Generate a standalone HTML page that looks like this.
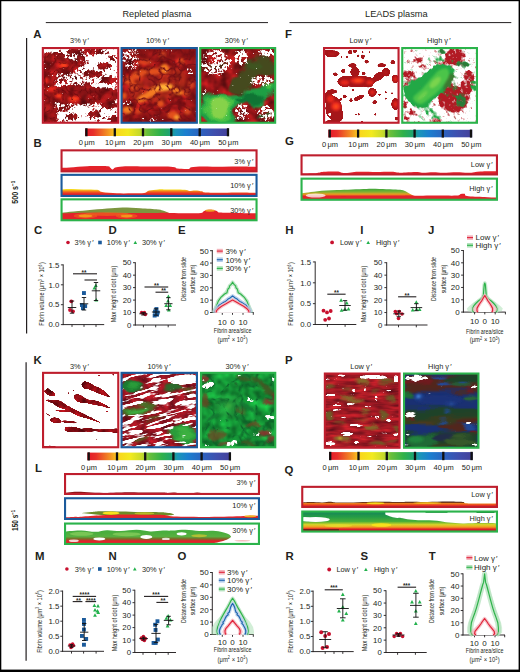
<!DOCTYPE html>
<html lang="en"><head><meta charset="utf-8"><title>Figure</title>
<style>html,body{margin:0;padding:0;background:#fff}svg{display:block}text{font-family:"Liberation Sans",sans-serif;fill:#231f20}</style></head>
<body>
<svg width="520" height="672" viewBox="0 0 520 672">
<defs>
<linearGradient id="cb" x1="0" x2="1" y1="0" y2="0">
<stop offset="0" stop-color="#e3182a"/><stop offset="0.06" stop-color="#e8302a"/><stop offset="0.16" stop-color="#f39322"/>
<stop offset="0.22" stop-color="#f9d71c"/><stop offset="0.30" stop-color="#f2ea1f"/><stop offset="0.38" stop-color="#c6d92b"/>
<stop offset="0.43" stop-color="#6abf3a"/><stop offset="0.52" stop-color="#2fb14a"/><stop offset="0.58" stop-color="#1fa56b"/>
<stop offset="0.63" stop-color="#1a96b8"/><stop offset="0.70" stop-color="#1b7fcf"/><stop offset="0.80" stop-color="#2b63c0"/>
<stop offset="0.90" stop-color="#3f4fae"/><stop offset="1" stop-color="#45409a"/></linearGradient>
<filter id="b05" x="-20%" y="-20%" width="140%" height="140%"><feGaussianBlur stdDeviation="0.5"/></filter>
<filter id="b1" x="-20%" y="-20%" width="140%" height="140%"><feGaussianBlur stdDeviation="1"/></filter>
<filter id="b2" x="-20%" y="-20%" width="140%" height="140%"><feGaussianBlur stdDeviation="2"/></filter>
<filter id="b3" x="-20%" y="-20%" width="140%" height="140%"><feGaussianBlur stdDeviation="3"/></filter>
<filter id="of1" filterUnits="userSpaceOnUse" x="41.8" y="47.0" width="77.5" height="76.8" color-interpolation-filters="sRGB"><feColorMatrix in="SourceGraphic" type="matrix" values="0 0 0 0 1 0 0 0 0 1 0 0 0 0 1 1 0 0 0 0" result="a"/><feGaussianBlur in="a" stdDeviation="0.8" result="d"/><feTurbulence type="fractalNoise" baseFrequency="0.4" numOctaves="3" seed="4" result="n"/><feColorMatrix in="n" type="matrix" values="0 0 0 0 1 0 0 0 0 1 0 0 0 0 1 1 0 0 0 0" result="na"/><feComposite in="d" in2="na" operator="arithmetic" k1="0" k2="1" k3="1.2" k4="-0.600" result="s"/><feComponentTransfer in="s"><feFuncA type="linear" slope="6" intercept="-2.500"/></feComponentTransfer></filter>
<mask id="om1" maskUnits="userSpaceOnUse" x="41.8" y="47.0" width="77.5" height="76.8"><g filter="url(#of1)"><rect x="41.8" y="47.0" width="77.5" height="76.8" fill="#000"/><rect x="43.2" y="48.2" width="75.7" height="75.7" fill="#ffffff" opacity="0.38"/><ellipse cx="47.9" cy="89.2" rx="7.9" ry="36.3" fill="#ffffff" opacity="0.7"/><ellipse cx="54.2" cy="56.4" rx="11.0" ry="4.4" fill="#ffffff" opacity="0.8"/><ellipse cx="65.2" cy="66.3" rx="13.4" ry="7.6" fill="#ffffff" opacity="0.85"/><ellipse cx="73.9" cy="51.6" rx="7.1" ry="2.8" fill="#ffffff" opacity="0.75"/><ellipse cx="92.8" cy="51.3" rx="11.0" ry="2.7" fill="#ffffff" opacity="0.75"/><ellipse cx="81.3" cy="60.0" rx="4.4" ry="6.0" fill="#ffffff" opacity="0.7"/><ellipse cx="104.3" cy="65.5" rx="7.1" ry="3.5" fill="#ffffff" opacity="0.8"/><ellipse cx="111.8" cy="58.4" rx="2.7" ry="2.5" fill="#ffffff" opacity="0.8"/><ellipse cx="92.8" cy="73.7" rx="9.5" ry="3.5" fill="#ffffff" opacity="0.8"/><ellipse cx="108.6" cy="80.5" rx="8.7" ry="3.2" fill="#ffffff" opacity="0.8"/><ellipse cx="80.2" cy="94.7" rx="39.4" ry="9.1" fill="#ffffff" opacity="0.85"/><ellipse cx="109.4" cy="104.9" rx="7.9" ry="3.8" fill="#ffffff" opacity="0.8"/><ellipse cx="49.5" cy="114.4" rx="9.5" ry="8.7" fill="#ffffff" opacity="0.8"/><ellipse cx="72.3" cy="116.8" rx="5.4" ry="2.7" fill="#ffffff" opacity="0.8"/><ellipse cx="95.2" cy="113.9" rx="7.1" ry="3.2" fill="#ffffff" opacity="0.8"/><ellipse cx="113.8" cy="119.4" rx="4.7" ry="3.5" fill="#ffffff" opacity="0.8"/><ellipse cx="63.7" cy="108.1" rx="6.3" ry="3.2" fill="#ffffff" opacity="0.5"/><ellipse cx="87.3" cy="86.8" rx="6.3" ry="3.9" fill="#ffffff" opacity="0.5"/><ellipse cx="58.9" cy="78.9" rx="9.5" ry="3.9" fill="#ffffff" opacity="0.3"/><ellipse cx="51.0" cy="50.4" rx="7.9" ry="1.9" fill="#000000" opacity="0.7"/><ellipse cx="63.7" cy="49.7" rx="4.7" ry="1.3" fill="#000000" opacity="0.5"/><ellipse cx="98.4" cy="59.2" rx="11.8" ry="4.1" fill="#000000" opacity="0.7"/><ellipse cx="92.0" cy="67.1" rx="7.1" ry="2.8" fill="#000000" opacity="0.7"/><ellipse cx="114.1" cy="65.5" rx="2.8" ry="3.9" fill="#000000" opacity="0.7"/><ellipse cx="114.1" cy="52.1" rx="3.2" ry="2.2" fill="#000000" opacity="0.7"/><ellipse cx="102.3" cy="85.7" rx="12.6" ry="1.7" fill="#000000" opacity="0.7"/><ellipse cx="81.0" cy="111.2" rx="7.9" ry="4.4" fill="#000000" opacity="0.7"/><ellipse cx="60.5" cy="116.0" rx="3.9" ry="4.7" fill="#000000" opacity="0.6"/><ellipse cx="106.2" cy="112.8" rx="6.3" ry="3.2" fill="#000000" opacity="0.7"/><ellipse cx="84.2" cy="120.4" rx="9.5" ry="1.9" fill="#000000" opacity="0.7"/><ellipse cx="103.1" cy="121.0" rx="4.7" ry="1.6" fill="#000000" opacity="0.6"/><ellipse cx="111.8" cy="73.4" rx="4.7" ry="1.9" fill="#000000" opacity="0.7"/></g></mask>
<filter id="tA1" filterUnits="userSpaceOnUse" x="41.8" y="47" width="77.5" height="76.8" color-interpolation-filters="sRGB"><feTurbulence type="fractalNoise" baseFrequency="0.1" numOctaves="2" seed="7"/><feColorMatrix type="matrix" values="0.8 0 0 0 0.17  0.12 0 0 0 0.02  0.12 0 0 0 0.03  0 0 0 0 1"/></filter>
<filter id="vA1" filterUnits="userSpaceOnUse" x="41.8" y="47" width="77.5" height="76.8" color-interpolation-filters="sRGB"><feTurbulence type="turbulence" baseFrequency="0.11" numOctaves="2" seed="19"/><feColorMatrix type="matrix" values="0 0 0 0 0.42 0 0 0 0 0.04 0 0 0 0 0.06 -5 0 0 0 0.85"/><feGaussianBlur stdDeviation="0.5"/></filter>
<clipPath id="c1"><rect x="42.50" y="47.70" width="76.10" height="75.40"/></clipPath>
<filter id="of2" filterUnits="userSpaceOnUse" x="120.5" y="47.0" width="77.4" height="76.8" color-interpolation-filters="sRGB"><feColorMatrix in="SourceGraphic" type="matrix" values="0 0 0 0 1 0 0 0 0 1 0 0 0 0 1 1 0 0 0 0" result="a"/><feGaussianBlur in="a" stdDeviation="1.0" result="d"/><feTurbulence type="fractalNoise" baseFrequency="0.4" numOctaves="3" seed="9" result="n"/><feColorMatrix in="n" type="matrix" values="0 0 0 0 1 0 0 0 0 1 0 0 0 0 1 1 0 0 0 0" result="na"/><feComposite in="d" in2="na" operator="arithmetic" k1="0" k2="1" k3="1.2" k4="-0.600" result="s"/><feComponentTransfer in="s"><feFuncA type="linear" slope="6" intercept="-2.500"/></feComponentTransfer></filter>
<mask id="om2" maskUnits="userSpaceOnUse" x="120.5" y="47.0" width="77.4" height="76.8"><g filter="url(#of2)"><rect x="120.5" y="47.0" width="77.4" height="76.8" fill="#000"/><rect x="118.0" y="45.0" width="82.0" height="82.0" fill="#ffffff" opacity="0.97"/><ellipse cx="130.6" cy="59.2" rx="9.8" ry="11.0" fill="#000000" opacity="0.4"/><ellipse cx="127.5" cy="54.5" rx="4.7" ry="4.7" fill="#000000" opacity="0.2"/><ellipse cx="189.8" cy="71.8" rx="4.4" ry="4.7" fill="#000000" opacity="0.42"/><ellipse cx="127.5" cy="104.1" rx="5.5" ry="3.5" fill="#000000" opacity="0.38"/><ellipse cx="152.7" cy="119.1" rx="14.2" ry="2.8" fill="#000000" opacity="0.33"/><ellipse cx="170.0" cy="51.0" rx="4.7" ry="1.6" fill="#000000" opacity="0.3"/><ellipse cx="140.1" cy="49.7" rx="9.5" ry="1.3" fill="#000000" opacity="0.3"/></g></mask>
<filter id="tA2" filterUnits="userSpaceOnUse" x="120.5" y="47" width="77.4" height="76.8" color-interpolation-filters="sRGB"><feTurbulence type="fractalNoise" baseFrequency="0.12" numOctaves="2" seed="3"/><feColorMatrix type="matrix" values="0.8 0 0 0 0.2  0.16 0 0 0 0.0  0.12 0 0 0 0.03  0 0 0 0 1"/></filter>
<filter id="vA2" filterUnits="userSpaceOnUse" x="120.5" y="47" width="77.4" height="76.8" color-interpolation-filters="sRGB"><feTurbulence type="turbulence" baseFrequency="0.1" numOctaves="2" seed="14"/><feColorMatrix type="matrix" values="0 0 0 0 0.45 0 0 0 0 0.06 0 0 0 0 0.08 -4.5 0 0 0 1.0"/><feGaussianBlur stdDeviation="0.5"/></filter>
<clipPath id="c2"><rect x="121.20" y="47.70" width="76.00" height="75.40"/></clipPath>
<filter id="of3" filterUnits="userSpaceOnUse" x="199.2" y="47.0" width="77.0" height="76.8" color-interpolation-filters="sRGB"><feColorMatrix in="SourceGraphic" type="matrix" values="0 0 0 0 1 0 0 0 0 1 0 0 0 0 1 1 0 0 0 0" result="a"/><feGaussianBlur in="a" stdDeviation="0.9" result="d"/><feTurbulence type="fractalNoise" baseFrequency="0.4" numOctaves="3" seed="12" result="n"/><feColorMatrix in="n" type="matrix" values="0 0 0 0 1 0 0 0 0 1 0 0 0 0 1 1 0 0 0 0" result="na"/><feComposite in="d" in2="na" operator="arithmetic" k1="0" k2="1" k3="1.2" k4="-0.600" result="s"/><feComponentTransfer in="s"><feFuncA type="linear" slope="6" intercept="-2.500"/></feComponentTransfer></filter>
<mask id="om3" maskUnits="userSpaceOnUse" x="199.2" y="47.0" width="77.0" height="76.8"><g filter="url(#of3)"><rect x="199.2" y="47.0" width="77.0" height="76.8" fill="#000"/><rect x="197.0" y="45.0" width="82.0" height="82.0" fill="#ffffff" opacity="0.93"/><ellipse cx="215.9" cy="62.3" rx="15.8" ry="13.4" fill="#000000" opacity="0.52"/><ellipse cx="241.2" cy="57.6" rx="7.1" ry="7.9" fill="#000000" opacity="0.62"/><ellipse cx="266.4" cy="52.9" rx="9.5" ry="3.5" fill="#000000" opacity="0.68"/><ellipse cx="261.7" cy="80.5" rx="12.6" ry="5.2" fill="#000000" opacity="0.56"/><ellipse cx="266.4" cy="112.8" rx="8.7" ry="7.9" fill="#000000" opacity="0.55"/><ellipse cx="241.9" cy="112.0" rx="6.6" ry="8.7" fill="#000000" opacity="0.5"/><ellipse cx="204.9" cy="92.3" rx="3.5" ry="6.3" fill="#000000" opacity="0.35"/><ellipse cx="208.0" cy="60.0" rx="5.5" ry="3.5" fill="#ffffff" opacity="0.6"/><ellipse cx="242.7" cy="60.0" rx="2.2" ry="2.8" fill="#ffffff" opacity="0.6"/><ellipse cx="220.7" cy="78.9" rx="9.5" ry="4.7" fill="#ffffff" opacity="0.5"/><ellipse cx="259.3" cy="72.6" rx="4.7" ry="3.2" fill="#ffffff" opacity="0.4"/><ellipse cx="228.5" cy="54.5" rx="3.2" ry="4.7" fill="#ffffff" opacity="0.5"/><ellipse cx="264.8" cy="114.4" rx="3.2" ry="2.4" fill="#ffffff" opacity="0.4"/><ellipse cx="260.1" cy="81.3" rx="3.2" ry="1.9" fill="#ffffff" opacity="0.4"/></g></mask>
<filter id="tA3" filterUnits="userSpaceOnUse" x="199.2" y="47" width="77.0" height="76.8" color-interpolation-filters="sRGB"><feTurbulence type="fractalNoise" baseFrequency="0.11" numOctaves="2" seed="5"/><feColorMatrix type="matrix" values="0.8 0 0 0 0.17  0.12 0 0 0 0.02  0.12 0 0 0 0.03  0 0 0 0 1"/></filter>
<filter id="wA3" filterUnits="userSpaceOnUse" x="187.2" y="35" width="101.0" height="100.8" color-interpolation-filters="sRGB"><feTurbulence type="fractalNoise" baseFrequency="0.07" numOctaves="2" seed="44" result="n"/><feGaussianBlur in="SourceGraphic" stdDeviation="0.9" result="b"/><feDisplacementMap in="b" in2="n" scale="12" xChannelSelector="R" yChannelSelector="G"/></filter>
<clipPath id="c3"><rect x="199.90" y="47.70" width="75.60" height="75.40"/></clipPath>
<filter id="of4" filterUnits="userSpaceOnUse" x="323.0" y="47.0" width="76.6" height="76.8" color-interpolation-filters="sRGB"><feColorMatrix in="SourceGraphic" type="matrix" values="0 0 0 0 1 0 0 0 0 1 0 0 0 0 1 1 0 0 0 0" result="a"/><feGaussianBlur in="a" stdDeviation="0.55" result="d"/><feTurbulence type="fractalNoise" baseFrequency="0.3" numOctaves="2" seed="21" result="n"/><feColorMatrix in="n" type="matrix" values="0 0 0 0 1 0 0 0 0 1 0 0 0 0 1 1 0 0 0 0" result="na"/><feComposite in="d" in2="na" operator="arithmetic" k1="0" k2="1" k3="0.6" k4="-0.300" result="s"/><feComponentTransfer in="s"><feFuncA type="linear" slope="5" intercept="-2.000"/></feComponentTransfer></filter>
<mask id="om4" maskUnits="userSpaceOnUse" x="323.0" y="47.0" width="76.6" height="76.8"><g filter="url(#of4)"><rect x="323.0" y="47.0" width="76.6" height="76.8" fill="#000"/><ellipse cx="332.0" cy="53.7" rx="7.6" ry="3.5" fill="#ffffff"/><ellipse cx="327.3" cy="52.1" rx="3.5" ry="2.5" fill="#ffffff"/><ellipse cx="350.2" cy="52.1" rx="2.2" ry="2.2" fill="#ffffff"/><ellipse cx="354.9" cy="51.3" rx="1.9" ry="1.9" fill="#ffffff"/><ellipse cx="362.8" cy="56.8" rx="1.9" ry="2.2" fill="#ffffff"/><ellipse cx="366.7" cy="61.6" rx="2.1" ry="1.9" fill="#ffffff"/><ellipse cx="358.1" cy="56.0" rx="1.4" ry="1.4" fill="#ffffff"/><ellipse cx="352.5" cy="65.5" rx="4.1" ry="2.2" fill="#ffffff"/><ellipse cx="381.7" cy="65.2" rx="4.1" ry="1.9" fill="#ffffff"/><ellipse cx="392.8" cy="62.3" rx="2.2" ry="2.2" fill="#ffffff"/><ellipse cx="343.1" cy="71.0" rx="2.4" ry="1.9" fill="#ffffff"/><ellipse cx="335.2" cy="74.2" rx="2.2" ry="1.7" fill="#ffffff"/><ellipse cx="356.5" cy="81.3" rx="19.2" ry="5.7" fill="#ffffff"/><ellipse cx="354.9" cy="71.8" rx="4.7" ry="4.7" fill="#ffffff"/><ellipse cx="378.6" cy="76.5" rx="6.6" ry="3.8" fill="#ffffff" transform="rotate(-35 378.6 76.5)"/><ellipse cx="386.0" cy="72.1" rx="4.1" ry="4.4" fill="#ffffff"/><ellipse cx="344.7" cy="81.6" rx="6.3" ry="5.7" fill="#ffffff"/><ellipse cx="368.3" cy="82.2" rx="5.7" ry="5.4" fill="#ffffff"/><ellipse cx="395.4" cy="78.9" rx="3.5" ry="4.1" fill="#ffffff"/><ellipse cx="372.3" cy="92.3" rx="4.4" ry="4.4" fill="#ffffff"/><ellipse cx="374.6" cy="102.1" rx="2.4" ry="1.9" fill="#ffffff"/><ellipse cx="358.8" cy="97.8" rx="5.4" ry="2.1" fill="#ffffff" transform="rotate(-25 358.8 97.8)"/><ellipse cx="344.7" cy="96.3" rx="1.9" ry="1.9" fill="#ffffff"/><ellipse cx="351.0" cy="100.2" rx="1.6" ry="1.9" fill="#ffffff"/><ellipse cx="333.6" cy="108.1" rx="8.2" ry="11.8" fill="#ffffff"/><ellipse cx="336.8" cy="115.2" rx="6.6" ry="7.9" fill="#ffffff"/><ellipse cx="332.0" cy="91.5" rx="5.4" ry="2.2" fill="#ffffff"/><ellipse cx="328.6" cy="97.8" rx="4.7" ry="6.3" fill="#ffffff"/><ellipse cx="395.4" cy="104.1" rx="4.1" ry="6.0" fill="#ffffff"/><ellipse cx="358.8" cy="114.4" rx="1.1" ry="1.1" fill="#ffffff"/><ellipse cx="355.7" cy="114.4" rx="0.9" ry="0.9" fill="#ffffff"/><ellipse cx="375.4" cy="114.4" rx="1.1" ry="1.1" fill="#ffffff"/><ellipse cx="385.7" cy="92.3" rx="1.1" ry="1.1" fill="#ffffff"/><ellipse cx="385.7" cy="98.6" rx="1.1" ry="1.1" fill="#ffffff"/><ellipse cx="392.0" cy="93.1" rx="0.9" ry="0.9" fill="#ffffff"/><ellipse cx="396.7" cy="118.8" rx="2.1" ry="1.7" fill="#ffffff"/><ellipse cx="330.5" cy="121.8" rx="5.0" ry="1.7" fill="#ffffff"/><ellipse cx="329.7" cy="114.4" rx="1.4" ry="1.7" fill="#000000" opacity="0.9"/><ellipse cx="347.0" cy="56.8" rx="1.1" ry="1.1" fill="#ffffff"/><ellipse cx="341.5" cy="56.8" rx="0.9" ry="0.9" fill="#ffffff"/><ellipse cx="362.8" cy="52.1" rx="0.9" ry="0.9" fill="#ffffff"/><ellipse cx="369.9" cy="52.1" rx="0.9" ry="0.8" fill="#ffffff"/><ellipse cx="363.6" cy="73.4" rx="1.9" ry="1.9" fill="#ffffff"/><ellipse cx="353.3" cy="89.9" rx="1.3" ry="0.9" fill="#ffffff"/><ellipse cx="340.7" cy="99.4" rx="1.3" ry="1.3" fill="#ffffff"/><ellipse cx="379.4" cy="94.7" rx="1.3" ry="1.1" fill="#ffffff"/><ellipse cx="362.0" cy="121.5" rx="1.3" ry="0.8" fill="#ffffff"/></g></mask>
<clipPath id="c4"><rect x="323.70" y="47.70" width="75.20" height="75.40"/></clipPath>
<filter id="of5" filterUnits="userSpaceOnUse" x="401.2" y="47.0" width="76.8" height="76.8" color-interpolation-filters="sRGB"><feColorMatrix in="SourceGraphic" type="matrix" values="0 0 0 0 1 0 0 0 0 1 0 0 0 0 1 1 0 0 0 0" result="a"/><feGaussianBlur in="a" stdDeviation="1.2" result="d"/><feTurbulence type="fractalNoise" baseFrequency="0.28" numOctaves="3" seed="31" result="n"/><feColorMatrix in="n" type="matrix" values="0 0 0 0 1 0 0 0 0 1 0 0 0 0 1 1 0 0 0 0" result="na"/><feComposite in="d" in2="na" operator="arithmetic" k1="0" k2="1" k3="0.9" k4="-0.450" result="s"/><feComponentTransfer in="s"><feFuncA type="linear" slope="3.2" intercept="-1.100"/></feComponentTransfer></filter>
<mask id="om5" maskUnits="userSpaceOnUse" x="401.2" y="47.0" width="76.8" height="76.8"><g filter="url(#of5)"><rect x="401.2" y="47.0" width="76.8" height="76.8" fill="#000"/><rect x="399.0" y="45.0" width="82.0" height="82.0" fill="#ffffff" opacity="0.27"/><ellipse cx="455.0" cy="56.8" rx="10.3" ry="8.7" fill="#ffffff" opacity="0.6"/><ellipse cx="467.6" cy="82.1" rx="7.1" ry="11.8" fill="#ffffff" opacity="0.55"/><ellipse cx="453.4" cy="99.4" rx="15.0" ry="13.4" fill="#ffffff" opacity="0.65"/><ellipse cx="417.9" cy="60.0" rx="4.7" ry="2.2" fill="#ffffff" opacity="0.7"/><ellipse cx="422.7" cy="66.3" rx="4.7" ry="1.6" fill="#ffffff" opacity="0.6"/><ellipse cx="408.5" cy="74.2" rx="6.3" ry="3.8" fill="#ffffff" opacity="0.55"/><ellipse cx="411.6" cy="112.8" rx="3.2" ry="2.8" fill="#ffffff" opacity="0.7"/><ellipse cx="406.9" cy="118.3" rx="2.4" ry="2.2" fill="#ffffff" opacity="0.6"/><ellipse cx="436.8" cy="120.7" rx="5.4" ry="1.7" fill="#ffffff" opacity="0.6"/><ellipse cx="405.3" cy="104.9" rx="2.5" ry="3.2" fill="#ffffff" opacity="0.6"/><ellipse cx="413.2" cy="84.4" rx="10.3" ry="7.1" fill="#ffffff" opacity="0.3"/><ellipse cx="446.3" cy="92.3" rx="9.5" ry="9.5" fill="#ffffff" opacity="0.35"/><ellipse cx="443.2" cy="63.9" rx="9.5" ry="4.7" fill="#ffffff" opacity="0.3"/><ellipse cx="459.7" cy="76.5" rx="4.7" ry="6.3" fill="#000000" opacity="0.55"/><ellipse cx="439.2" cy="110.4" rx="7.9" ry="3.5" fill="#000000" opacity="0.35"/><ellipse cx="424.2" cy="52.9" rx="11.0" ry="2.8" fill="#000000" opacity="0.3"/><ellipse cx="472.3" cy="115.2" rx="5.5" ry="7.1" fill="#000000" opacity="0.3"/><ellipse cx="470.8" cy="53.7" rx="4.4" ry="3.9" fill="#000000" opacity="0.3"/></g></mask>
<filter id="of6" filterUnits="userSpaceOnUse" x="391.2" y="37.0" width="96.8" height="96.8" color-interpolation-filters="sRGB"><feColorMatrix in="SourceGraphic" type="matrix" values="0 0 0 0 1 0 0 0 0 1 0 0 0 0 1 1 0 0 0 0" result="a"/><feGaussianBlur in="a" stdDeviation="1.0" result="d"/><feTurbulence type="fractalNoise" baseFrequency="0.3 0.22" numOctaves="3" seed="37" result="n"/><feColorMatrix in="n" type="matrix" values="0 0 0 0 1 0 0 0 0 1 0 0 0 0 1 1 0 0 0 0" result="na"/><feComposite in="d" in2="na" operator="arithmetic" k1="0" k2="1" k3="0.9" k4="-0.450" result="s"/><feComponentTransfer in="s"><feFuncA type="linear" slope="3.5" intercept="-1.250"/></feComponentTransfer></filter>
<mask id="om6" maskUnits="userSpaceOnUse" x="391.2" y="37.0" width="96.8" height="96.8"><g transform="rotate(-40 439.6 85.4)" filter="url(#of6)"><g transform="rotate(40 439.6 85.4)"><rect x="391.2" y="37.0" width="96.8" height="96.8" fill="#000"/><rect x="399.0" y="45.0" width="82.0" height="82.0" fill="#ffffff" opacity="0.2"/><path d="M404.5 89.2C406.2 87.1 411.5 83.5 414.8 81.0C418.1 78.5 421.2 76.5 424.2 74.2C427.3 71.9 430.3 68.7 432.9 67.1C435.5 65.4 437.2 64.5 440.0 64.2C442.8 64.0 447.2 64.4 449.5 65.5C451.8 66.6 453.4 68.6 453.9 71.0C454.4 73.4 453.6 77.2 452.3 80.0C451.0 82.8 448.4 85.5 446.3 87.9C444.3 90.3 441.9 92.5 440.0 94.2C438.1 95.9 436.8 96.7 435.0 98.3C433.1 99.9 431.0 102.1 429.0 103.7C426.9 105.2 425.0 107.3 422.7 107.8C420.3 108.2 417.4 107.6 414.8 106.2C412.1 104.8 408.6 101.6 406.9 99.4C405.2 97.2 405.1 94.8 404.7 93.1C404.3 91.4 402.8 91.2 404.5 89.2Z" fill="#ffffff" opacity="0.85"/><ellipse cx="441.6" cy="51.6" rx="3.8" ry="3.5" fill="#ffffff" opacity="0.6"/><ellipse cx="462.1" cy="64.7" rx="7.3" ry="3.5" fill="#ffffff" opacity="0.55"/><ellipse cx="461.3" cy="100.2" rx="5.7" ry="7.3" fill="#ffffff" opacity="0.6"/><ellipse cx="473.1" cy="86.0" rx="3.8" ry="5.7" fill="#ffffff" opacity="0.55"/><ellipse cx="431.3" cy="112.8" rx="11.8" ry="4.1" fill="#ffffff" transform="rotate(35 431.3 112.8)" opacity="0.45"/><ellipse cx="410.0" cy="86.0" rx="9.5" ry="6.3" fill="#ffffff" transform="rotate(-30 410.0 86.0)" opacity="0.3"/><ellipse cx="451.0" cy="86.0" rx="7.9" ry="12.6" fill="#ffffff" opacity="0.25"/><ellipse cx="436.8" cy="59.2" rx="9.5" ry="3.9" fill="#ffffff" opacity="0.3"/><ellipse cx="417.9" cy="114.4" rx="7.9" ry="2.2" fill="#ffffff" transform="rotate(30 417.9 114.4)" opacity="0.3"/></g></g></mask>
<clipPath id="c5"><rect x="401.90" y="47.70" width="75.40" height="75.40"/></clipPath>
<filter id="of7" filterUnits="userSpaceOnUse" x="42.0" y="371.8" width="77.3" height="76.5" color-interpolation-filters="sRGB"><feColorMatrix in="SourceGraphic" type="matrix" values="0 0 0 0 1 0 0 0 0 1 0 0 0 0 1 1 0 0 0 0" result="a"/><feGaussianBlur in="a" stdDeviation="0.6" result="d"/><feTurbulence type="fractalNoise" baseFrequency="0.15 0.4" numOctaves="2" seed="41" result="n"/><feColorMatrix in="n" type="matrix" values="0 0 0 0 1 0 0 0 0 1 0 0 0 0 1 1 0 0 0 0" result="na"/><feComposite in="d" in2="na" operator="arithmetic" k1="0" k2="1" k3="0.7" k4="-0.350" result="s"/><feComponentTransfer in="s"><feFuncA type="linear" slope="6" intercept="-2.500"/></feComponentTransfer></filter>
<mask id="om7" maskUnits="userSpaceOnUse" x="42.0" y="371.8" width="77.3" height="76.5"><g filter="url(#of7)"><rect x="42.0" y="371.8" width="77.3" height="76.5" fill="#000"/><path d="M81.3 384.2C81.6 383.0 83.6 381.1 85.7 381.4C87.9 381.6 91.5 384.0 94.4 385.5C97.3 386.9 100.5 388.2 103.1 390.2C105.7 392.1 110.7 396.5 110.2 397.1C109.7 397.8 103.2 395.1 99.9 394.0C96.6 392.8 93.1 391.1 90.5 390.2C87.8 389.3 85.7 389.6 84.2 388.6C82.6 387.6 81.1 385.4 81.3 384.2Z" fill="#ffffff"/><path d="M73.9 396.8C73.9 395.5 75.6 393.6 77.8 394.0C80.1 394.3 83.9 397.7 87.3 398.9C90.7 400.1 94.4 399.7 98.4 401.2C102.3 402.8 110.7 407.4 111.0 408.2C111.2 409.0 103.9 406.7 99.9 406.0C96.0 405.2 91.0 404.2 87.3 403.6C83.6 402.9 80.1 403.1 77.8 402.0C75.6 400.9 73.9 398.2 73.9 396.8Z" fill="#ffffff"/><ellipse cx="49.8" cy="392.9" rx="5.7" ry="2.7" fill="#ffffff" transform="rotate(22 49.8 392.9)"/><ellipse cx="55.0" cy="402.0" rx="9.5" ry="1.7" fill="#ffffff" transform="rotate(12 55.0 402.0)" opacity="0.9"/><path d="M52.9 403.1C52.9 401.9 56.3 400.0 58.9 400.4C61.5 400.9 65.0 404.1 68.4 406.0C71.8 407.8 75.7 409.6 79.4 411.5C83.1 413.3 86.8 415.0 90.5 417.0C94.1 419.0 102.0 423.0 101.5 423.3C101.0 423.6 91.3 419.8 87.3 418.6C83.4 417.4 81.0 417.4 77.8 416.0C74.7 414.7 71.5 412.1 68.4 410.7C65.2 409.3 61.5 408.8 58.9 407.5C56.3 406.3 52.9 404.3 52.9 403.1Z" fill="#ffffff"/><ellipse cx="63.7" cy="411.0" rx="8.7" ry="1.1" fill="#ffffff" transform="rotate(5 63.7 411.0)" opacity="0.9"/><ellipse cx="55.8" cy="420.5" rx="5.7" ry="2.8" fill="#ffffff" transform="rotate(10 55.8 420.5)"/><ellipse cx="69.2" cy="422.0" rx="7.6" ry="1.3" fill="#ffffff" transform="rotate(5 69.2 422.0)" opacity="0.9"/><path d="M64.9 427.6C65.9 426.8 68.9 426.3 71.5 426.5C74.2 426.6 77.6 428.0 81.0 428.4C84.4 428.7 88.4 428.1 92.0 428.4C95.7 428.6 98.7 429.6 103.1 429.6C107.4 429.7 115.6 428.2 118.1 428.7C120.6 429.2 120.6 432.0 118.1 432.6C115.6 433.2 107.4 432.3 103.1 432.1C98.7 432.0 95.7 431.6 92.0 431.5C88.4 431.5 84.4 431.7 81.0 431.8C77.6 431.9 74.1 432.3 71.5 432.1C69.0 432.0 66.8 431.8 65.7 431.0C64.6 430.3 63.9 428.3 64.9 427.6Z" fill="#ffffff"/><ellipse cx="49.5" cy="446.8" rx="6.6" ry="1.3" fill="#ffffff" opacity="0.9"/><ellipse cx="99.1" cy="375.5" rx="1.3" ry="0.9" fill="#ffffff"/><ellipse cx="113.3" cy="374.7" rx="0.9" ry="0.9" fill="#ffffff"/><ellipse cx="68.4" cy="393.3" rx="0.9" ry="0.8" fill="#ffffff"/><ellipse cx="73.4" cy="390.2" rx="0.6" ry="0.6" fill="#ffffff"/><ellipse cx="107.0" cy="411.3" rx="1.1" ry="0.8" fill="#ffffff"/><ellipse cx="96.8" cy="439.4" rx="0.6" ry="0.5" fill="#ffffff" opacity="0.9"/><ellipse cx="48.7" cy="414.9" rx="4.7" ry="0.6" fill="#ffffff" transform="rotate(30 48.7 414.9)" opacity="0.6"/><ellipse cx="47.9" cy="389.7" rx="1.9" ry="1.6" fill="#ffffff" opacity="0.8"/></g></mask>
<filter id="tK1" filterUnits="userSpaceOnUse" x="42" y="371.8" width="77.3" height="76.5" color-interpolation-filters="sRGB"><feTurbulence type="fractalNoise" baseFrequency="0.15" numOctaves="2" seed="2"/><feColorMatrix type="matrix" values="0.7 0 0 0 0.2  0.1 0 0 0 0  0.12 0 0 0 0.02  0 0 0 0 1"/></filter>
<clipPath id="c6"><rect x="42.70" y="372.50" width="75.90" height="75.10"/></clipPath>
<filter id="of8" filterUnits="userSpaceOnUse" x="106.5" y="357.8" width="105.5" height="104.5" color-interpolation-filters="sRGB"><feColorMatrix in="SourceGraphic" type="matrix" values="0 0 0 0 1 0 0 0 0 1 0 0 0 0 1 1 0 0 0 0" result="a"/><feGaussianBlur in="a" stdDeviation="0.6" result="d"/><feTurbulence type="fractalNoise" baseFrequency="0.07 0.4" numOctaves="3" seed="51" result="n"/><feColorMatrix in="n" type="matrix" values="0 0 0 0 1 0 0 0 0 1 0 0 0 0 1 1 0 0 0 0" result="na"/><feComposite in="d" in2="na" operator="arithmetic" k1="0" k2="1" k3="1.5" k4="-0.750" result="s"/><feComponentTransfer in="s"><feFuncA type="linear" slope="6" intercept="-2.500"/></feComponentTransfer></filter>
<mask id="om8" maskUnits="userSpaceOnUse" x="106.5" y="357.8" width="105.5" height="104.5"><g transform="rotate(-13 159.2 410.1)" filter="url(#of8)"><g transform="rotate(13 159.2 410.1)"><rect x="106.5" y="357.8" width="105.5" height="104.5" fill="#000"/><rect x="102.2" y="354.2" width="113.5" height="113.5" fill="#ffffff" opacity="0.62"/><ellipse cx="182.7" cy="379.5" rx="15.0" ry="4.7" fill="#000000" transform="rotate(-5 182.7 379.5)" opacity="0.75"/><ellipse cx="170.0" cy="394.4" rx="8.7" ry="1.6" fill="#000000" transform="rotate(-12 170.0 394.4)" opacity="0.7"/><ellipse cx="133.8" cy="403.9" rx="9.8" ry="1.4" fill="#000000" transform="rotate(-12 133.8 403.9)" opacity="0.7"/><ellipse cx="162.9" cy="401.5" rx="12.3" ry="1.7" fill="#000000" transform="rotate(-12 162.9 401.5)" opacity="0.7"/><ellipse cx="154.3" cy="412.9" rx="8.7" ry="1.1" fill="#000000" transform="rotate(-12 154.3 412.9)" opacity="0.65"/><ellipse cx="183.4" cy="403.1" rx="9.1" ry="2.5" fill="#000000" transform="rotate(-12 183.4 403.1)" opacity="0.7"/><ellipse cx="127.5" cy="422.4" rx="6.0" ry="1.7" fill="#000000" transform="rotate(-10 127.5 422.4)" opacity="0.7"/><ellipse cx="161.4" cy="425.2" rx="12.3" ry="1.7" fill="#000000" transform="rotate(-15 161.4 425.2)" opacity="0.7"/><ellipse cx="132.2" cy="433.1" rx="10.3" ry="2.1" fill="#000000" transform="rotate(-10 132.2 433.1)" opacity="0.7"/><ellipse cx="133.8" cy="440.2" rx="7.9" ry="1.1" fill="#000000" transform="rotate(-10 133.8 440.2)" opacity="0.6"/><ellipse cx="156.6" cy="433.1" rx="6.9" ry="1.4" fill="#000000" transform="rotate(-12 156.6 433.1)" opacity="0.65"/><ellipse cx="189.0" cy="418.9" rx="6.9" ry="1.7" fill="#000000" transform="rotate(-12 189.0 418.9)" opacity="0.65"/><ellipse cx="149.5" cy="389.2" rx="6.9" ry="1.4" fill="#000000" transform="rotate(-12 149.5 389.2)" opacity="0.65"/><ellipse cx="192.1" cy="396.0" rx="4.7" ry="1.3" fill="#000000" transform="rotate(-10 192.1 396.0)" opacity="0.6"/><ellipse cx="155.8" cy="379.5" rx="5.0" ry="1.3" fill="#000000" transform="rotate(-12 155.8 379.5)" opacity="0.6"/><ellipse cx="141.7" cy="396.0" rx="4.7" ry="0.9" fill="#000000" transform="rotate(-10 141.7 396.0)" opacity="0.5"/><ellipse cx="171.6" cy="415.7" rx="6.3" ry="0.9" fill="#000000" transform="rotate(-12 171.6 415.7)" opacity="0.5"/><ellipse cx="143.2" cy="446.0" rx="7.9" ry="1.1" fill="#000000" opacity="0.5"/><ellipse cx="127.5" cy="379.5" rx="3.5" ry="1.3" fill="#000000" opacity="0.4"/><ellipse cx="192.1" cy="410.2" rx="4.7" ry="0.9" fill="#000000" transform="rotate(-10 192.1 410.2)" opacity="0.5"/><ellipse cx="125.9" cy="411.8" rx="3.2" ry="0.9" fill="#000000" opacity="0.5"/><ellipse cx="177.9" cy="422.0" rx="4.7" ry="0.9" fill="#000000" transform="rotate(-10 177.9 422.0)" opacity="0.5"/><ellipse cx="170.0" cy="439.4" rx="4.7" ry="1.3" fill="#000000" opacity="0.4"/><ellipse cx="132.2" cy="385.0" rx="9.1" ry="6.3" fill="#ffffff" opacity="0.85"/><ellipse cx="138.5" cy="409.4" rx="17.3" ry="4.4" fill="#ffffff" transform="rotate(-10 138.5 409.4)" opacity="0.9"/><ellipse cx="184.2" cy="433.9" rx="13.9" ry="7.9" fill="#ffffff" opacity="0.8"/><ellipse cx="172.4" cy="387.3" rx="8.7" ry="3.5" fill="#ffffff" opacity="0.8"/><ellipse cx="141.7" cy="439.4" rx="9.5" ry="1.9" fill="#ffffff" transform="rotate(-20 141.7 439.4)" opacity="0.6"/></g></g></mask>
<filter id="tK2" filterUnits="userSpaceOnUse" x="120.5" y="371.8" width="77.5" height="76.5" color-interpolation-filters="sRGB"><feTurbulence type="fractalNoise" baseFrequency="0.13" numOctaves="2" seed="8"/><feColorMatrix type="matrix" values="0.7 0 0 0 0.24  0.1 0 0 0 0.03  0.12 0 0 0 0.07  0 0 0 0 1"/></filter>
<filter id="wK2" filterUnits="userSpaceOnUse" x="108.5" y="359.8" width="101.5" height="100.5" color-interpolation-filters="sRGB"><feTurbulence type="fractalNoise" baseFrequency="0.04 0.12" numOctaves="2" seed="45" result="n"/><feGaussianBlur in="SourceGraphic" stdDeviation="0.9" result="b"/><feDisplacementMap in="b" in2="n" scale="12" xChannelSelector="R" yChannelSelector="G"/></filter>
<clipPath id="c7"><rect x="121.20" y="372.50" width="76.10" height="75.10"/></clipPath>
<filter id="of9" filterUnits="userSpaceOnUse" x="200.0" y="371.8" width="76.3" height="76.5" color-interpolation-filters="sRGB"><feColorMatrix in="SourceGraphic" type="matrix" values="0 0 0 0 1 0 0 0 0 1 0 0 0 0 1 1 0 0 0 0" result="a"/><feGaussianBlur in="a" stdDeviation="0.8" result="d"/><feTurbulence type="fractalNoise" baseFrequency="0.4" numOctaves="3" seed="61" result="n"/><feColorMatrix in="n" type="matrix" values="0 0 0 0 1 0 0 0 0 1 0 0 0 0 1 1 0 0 0 0" result="na"/><feComposite in="d" in2="na" operator="arithmetic" k1="0" k2="1" k3="1.0" k4="-0.500" result="s"/><feComponentTransfer in="s"><feFuncA type="linear" slope="6" intercept="-2.500"/></feComponentTransfer></filter>
<mask id="om9" maskUnits="userSpaceOnUse" x="200.0" y="371.8" width="76.3" height="76.5"><g filter="url(#of9)"><rect x="200.0" y="371.8" width="76.3" height="76.5" fill="#000"/><rect x="197.0" y="370.0" width="82.0" height="82.0" fill="#ffffff" opacity="0.96"/><ellipse cx="208.0" cy="385.0" rx="6.6" ry="3.2" fill="#000000" transform="rotate(-15 208.0 385.0)" opacity="0.8"/><ellipse cx="239.6" cy="375.5" rx="2.8" ry="1.3" fill="#000000" opacity="0.7"/><ellipse cx="250.6" cy="400.0" rx="4.7" ry="1.4" fill="#000000" transform="rotate(20 250.6 400.0)" opacity="0.8"/><ellipse cx="269.9" cy="417.3" rx="4.7" ry="2.2" fill="#000000" opacity="0.8"/><ellipse cx="256.9" cy="434.7" rx="3.9" ry="1.4" fill="#000000" opacity="0.75"/><ellipse cx="231.7" cy="443.3" rx="7.3" ry="2.1" fill="#000000" transform="rotate(-20 231.7 443.3)" opacity="0.8"/><ellipse cx="273.5" cy="379.5" rx="1.9" ry="2.8" fill="#000000" opacity="0.7"/><ellipse cx="268.0" cy="375.5" rx="2.4" ry="1.3" fill="#000000" opacity="0.6"/><ellipse cx="206.5" cy="446.0" rx="3.9" ry="1.3" fill="#000000" opacity="0.6"/><ellipse cx="203.3" cy="379.5" rx="1.9" ry="1.6" fill="#000000" opacity="0.6"/><ellipse cx="271.1" cy="433.1" rx="3.2" ry="1.3" fill="#000000" opacity="0.6"/><ellipse cx="252.2" cy="393.7" rx="3.2" ry="0.9" fill="#000000" transform="rotate(20 252.2 393.7)" opacity="0.5"/></g></mask>
<filter id="tK3" filterUnits="userSpaceOnUse" x="200" y="371.8" width="76.3" height="76.5" color-interpolation-filters="sRGB"><feTurbulence type="fractalNoise" baseFrequency="0.1" numOctaves="2" seed="6"/><feColorMatrix type="matrix" values="0.1 0 0 0 0.03  0.65 0 0 0 0.25  0.22 0 0 0 0.1  0 0 0 0 1"/></filter>
<filter id="wK3" filterUnits="userSpaceOnUse" x="188" y="359.8" width="100.3" height="100.5" color-interpolation-filters="sRGB"><feTurbulence type="fractalNoise" baseFrequency="0.06" numOctaves="2" seed="46" result="n"/><feGaussianBlur in="SourceGraphic" stdDeviation="0.9" result="b"/><feDisplacementMap in="b" in2="n" scale="12" xChannelSelector="R" yChannelSelector="G"/></filter>
<filter id="vK3" filterUnits="userSpaceOnUse" x="200" y="371.8" width="76.3" height="76.5" color-interpolation-filters="sRGB"><feTurbulence type="turbulence" baseFrequency="0.07" numOctaves="2" seed="23"/><feColorMatrix type="matrix" values="0 0 0 0 0.05 0 0 0 0 0.36 0 0 0 0 0.16 -4 0 0 0 0.8"/><feGaussianBlur stdDeviation="0.5"/></filter>
<clipPath id="c8"><rect x="200.70" y="372.50" width="74.90" height="75.10"/></clipPath>
<filter id="of10" filterUnits="userSpaceOnUse" x="323.8" y="372.5" width="76.8" height="76.3" color-interpolation-filters="sRGB"><feColorMatrix in="SourceGraphic" type="matrix" values="0 0 0 0 1 0 0 0 0 1 0 0 0 0 1 1 0 0 0 0" result="a"/><feGaussianBlur in="a" stdDeviation="0.7" result="d"/><feTurbulence type="fractalNoise" baseFrequency="0.2 0.5" numOctaves="3" seed="71" result="n"/><feColorMatrix in="n" type="matrix" values="0 0 0 0 1 0 0 0 0 1 0 0 0 0 1 1 0 0 0 0" result="na"/><feComposite in="d" in2="na" operator="arithmetic" k1="0" k2="1" k3="1.1" k4="-0.550" result="s"/><feComponentTransfer in="s"><feFuncA type="linear" slope="6" intercept="-2.500"/></feComponentTransfer></filter>
<mask id="om10" maskUnits="userSpaceOnUse" x="323.8" y="372.5" width="76.8" height="76.3"><g filter="url(#of10)"><rect x="323.8" y="372.5" width="76.8" height="76.3" fill="#000"/><rect x="321.0" y="370.0" width="82.0" height="82.0" fill="#ffffff" opacity="0.9"/><ellipse cx="373.0" cy="377.1" rx="13.9" ry="2.1" fill="#000000" opacity="0.75"/><ellipse cx="341.5" cy="375.5" rx="3.5" ry="1.4" fill="#000000" opacity="0.6"/><ellipse cx="395.9" cy="378.7" rx="2.5" ry="3.5" fill="#000000" opacity="0.7"/><ellipse cx="330.5" cy="395.2" rx="5.4" ry="1.4" fill="#000000" opacity="0.7"/><ellipse cx="351.0" cy="403.9" rx="3.8" ry="1.7" fill="#000000" opacity="0.7"/><ellipse cx="336.8" cy="405.5" rx="4.4" ry="1.1" fill="#000000" opacity="0.65"/><ellipse cx="354.1" cy="390.5" rx="1.9" ry="1.7" fill="#000000" opacity="0.65"/><ellipse cx="365.2" cy="389.7" rx="1.7" ry="1.4" fill="#000000" opacity="0.65"/><ellipse cx="376.2" cy="398.4" rx="1.7" ry="2.1" fill="#000000" opacity="0.65"/><ellipse cx="356.5" cy="425.2" rx="6.9" ry="1.4" fill="#000000" opacity="0.7"/><ellipse cx="347.0" cy="433.9" rx="6.0" ry="2.1" fill="#000000" opacity="0.75"/><ellipse cx="377.0" cy="417.3" rx="2.7" ry="1.4" fill="#000000" opacity="0.65"/><ellipse cx="388.8" cy="420.5" rx="2.7" ry="1.4" fill="#000000" opacity="0.65"/><ellipse cx="330.5" cy="443.3" rx="5.0" ry="2.1" fill="#000000" opacity="0.7"/><ellipse cx="356.5" cy="442.5" rx="2.7" ry="1.4" fill="#000000" opacity="0.65"/><ellipse cx="395.9" cy="434.7" rx="2.7" ry="1.4" fill="#000000" opacity="0.65"/><ellipse cx="336.8" cy="410.2" rx="4.3" ry="1.1" fill="#000000" opacity="0.6"/><ellipse cx="387.2" cy="390.5" rx="3.5" ry="1.1" fill="#000000" opacity="0.5"/><ellipse cx="368.3" cy="406.3" rx="3.5" ry="1.1" fill="#000000" opacity="0.5"/><ellipse cx="344.7" cy="417.3" rx="3.5" ry="1.1" fill="#000000" opacity="0.5"/><ellipse cx="330.5" cy="379.5" rx="4.7" ry="1.3" fill="#000000" opacity="0.4"/><ellipse cx="384.1" cy="433.1" rx="3.9" ry="1.1" fill="#000000" opacity="0.4"/><ellipse cx="368.3" cy="436.2" rx="3.2" ry="0.9" fill="#000000" opacity="0.4"/></g></mask>
<filter id="tP1" filterUnits="userSpaceOnUse" x="323.8" y="372.5" width="78" height="78" color-interpolation-filters="sRGB"><feTurbulence type="fractalNoise" baseFrequency="0.07 0.28" numOctaves="2" seed="5"/><feColorMatrix type="matrix" values="0.7 0 0 0 0.28  0.12 0 0 0 0.04  0.12 0 0 0 0.08  0 0 0 0 1"/></filter>
<filter id="wP1" filterUnits="userSpaceOnUse" x="311.8" y="360.5" width="100.8" height="100.3" color-interpolation-filters="sRGB"><feTurbulence type="fractalNoise" baseFrequency="0.04 0.12" numOctaves="2" seed="47" result="n"/><feGaussianBlur in="SourceGraphic" stdDeviation="0.9" result="b"/><feDisplacementMap in="b" in2="n" scale="10" xChannelSelector="R" yChannelSelector="G"/></filter>
<clipPath id="c9"><rect x="324.50" y="373.20" width="75.40" height="74.90"/></clipPath>
<filter id="of11" filterUnits="userSpaceOnUse" x="403.0" y="372.5" width="76.5" height="76.3" color-interpolation-filters="sRGB"><feColorMatrix in="SourceGraphic" type="matrix" values="0 0 0 0 1 0 0 0 0 1 0 0 0 0 1 1 0 0 0 0" result="a"/><feGaussianBlur in="a" stdDeviation="0.8" result="d"/><feTurbulence type="fractalNoise" baseFrequency="0.15 0.45" numOctaves="3" seed="81" result="n"/><feColorMatrix in="n" type="matrix" values="0 0 0 0 1 0 0 0 0 1 0 0 0 0 1 1 0 0 0 0" result="na"/><feComposite in="d" in2="na" operator="arithmetic" k1="0" k2="1" k3="1.1" k4="-0.550" result="s"/><feComponentTransfer in="s"><feFuncA type="linear" slope="6" intercept="-2.500"/></feComponentTransfer></filter>
<mask id="om11" maskUnits="userSpaceOnUse" x="403.0" y="372.5" width="76.5" height="76.3"><g filter="url(#of11)"><rect x="403.0" y="372.5" width="76.5" height="76.3" fill="#000"/><rect x="400.0" y="370.0" width="82.0" height="82.0" fill="#ffffff" opacity="0.96"/><ellipse cx="415.8" cy="377.9" rx="12.3" ry="3.2" fill="#000000" opacity="0.72"/><ellipse cx="474.1" cy="386.6" rx="3.2" ry="1.9" fill="#000000" opacity="0.75"/><ellipse cx="472.5" cy="375.5" rx="3.9" ry="1.3" fill="#000000" opacity="0.6"/><ellipse cx="410.3" cy="414.9" rx="6.3" ry="3.2" fill="#000000" opacity="0.74"/><ellipse cx="469.4" cy="422.8" rx="4.1" ry="1.4" fill="#000000" opacity="0.7"/><ellipse cx="407.1" cy="434.7" rx="2.2" ry="1.9" fill="#000000" opacity="0.6"/><ellipse cx="407.9" cy="444.9" rx="3.9" ry="1.6" fill="#000000" opacity="0.6"/><ellipse cx="474.1" cy="444.4" rx="3.5" ry="1.6" fill="#000000" opacity="0.6"/><ellipse cx="459.9" cy="374.7" rx="3.2" ry="0.9" fill="#000000" opacity="0.5"/></g></mask>
<filter id="tP2" filterUnits="userSpaceOnUse" x="403" y="372.5" width="78" height="78" color-interpolation-filters="sRGB"><feTurbulence type="fractalNoise" baseFrequency="0.05 0.2" numOctaves="2" seed="9"/><feColorMatrix type="matrix" values="0.15 0 0 0 0.02  0.3 0 0 0 0.06  0.7 0 0 0 0.1  0 0 0 0 1"/></filter>
<filter id="wP2" filterUnits="userSpaceOnUse" x="391" y="360.5" width="100.5" height="100.3" color-interpolation-filters="sRGB"><feTurbulence type="fractalNoise" baseFrequency="0.03 0.11" numOctaves="2" seed="33" result="n"/><feGaussianBlur in="SourceGraphic" stdDeviation="0.9" result="b"/><feDisplacementMap in="b" in2="n" scale="14" xChannelSelector="R" yChannelSelector="G"/></filter>
<clipPath id="c10"><rect x="403.70" y="373.20" width="75.10" height="74.90"/></clipPath>
<clipPath id="c11"><rect x="61.20" y="150.00" width="195.70" height="21.70"/></clipPath>
<linearGradient id="gB2" gradientUnits="userSpaceOnUse" x1="0" x2="0" y1="189.3" y2="195.6"><stop offset="0" stop-color="#f7e11a"/><stop offset="0.4" stop-color="#f0641e"/><stop offset="0.75" stop-color="#e3202a"/><stop offset="1" stop-color="#e3202a"/></linearGradient>
<clipPath id="c12"><rect x="61.20" y="174.50" width="195.70" height="21.80"/></clipPath>
<clipPath id="c13"><rect x="61.20" y="199.00" width="195.70" height="21.60"/></clipPath>
<clipPath id="c14"><rect x="301.20" y="155.00" width="196.10" height="19.80"/></clipPath>
<linearGradient id="gG2" gradientUnits="userSpaceOnUse" x1="0" x2="0" y1="189.0" y2="199.4"><stop offset="0" stop-color="#3fa63a"/><stop offset="0.3" stop-color="#86b030"/><stop offset="0.5" stop-color="#e8a020"/><stop offset="0.7" stop-color="#e3202a"/><stop offset="1" stop-color="#e3202a"/></linearGradient>
<clipPath id="c15"><rect x="301.20" y="178.30" width="196.10" height="21.80"/></clipPath>
<clipPath id="c16"><rect x="64.70" y="473.70" width="194.60" height="20.60"/></clipPath>
<linearGradient id="gL2" gradientUnits="userSpaceOnUse" x1="0" x2="0" y1="512.5" y2="518.5"><stop offset="0" stop-color="#f0641e"/><stop offset="0.5" stop-color="#e3202a"/><stop offset="1" stop-color="#e3202a"/></linearGradient>
<clipPath id="c17"><rect x="64.70" y="497.90" width="194.60" height="21.40"/></clipPath>
<linearGradient id="gL3" gradientUnits="userSpaceOnUse" x1="0" x2="0" y1="530.5" y2="544.0"><stop offset="0" stop-color="#44ad3c"/><stop offset="0.45" stop-color="#58b040"/><stop offset="0.62" stop-color="#7a6a28"/><stop offset="0.78" stop-color="#e3202a"/><stop offset="1" stop-color="#e3202a"/></linearGradient>
<clipPath id="c18"><rect x="64.70" y="523.20" width="194.60" height="21.10"/></clipPath>
<linearGradient id="gQ1" gradientUnits="userSpaceOnUse" x1="0" x2="0" y1="501.8" y2="507.0"><stop offset="0" stop-color="#4a2412"/><stop offset="0.16" stop-color="#7a3a16"/><stop offset="0.3" stop-color="#e8821e"/><stop offset="0.6" stop-color="#ee4a20"/><stop offset="0.82" stop-color="#e3202a"/><stop offset="1" stop-color="#e3202a"/></linearGradient>
<clipPath id="c19"><rect x="301.90" y="486.50" width="195.40" height="20.80"/></clipPath>
<linearGradient id="gQ2" gradientUnits="userSpaceOnUse" x1="0" x2="0" y1="511.4" y2="531.5"><stop offset="0" stop-color="#16835c"/><stop offset="0.25" stop-color="#229a48"/><stop offset="0.5" stop-color="#4aae38"/><stop offset="0.66" stop-color="#d8d428"/><stop offset="0.78" stop-color="#f29a1e"/><stop offset="0.88" stop-color="#e3202a"/><stop offset="1" stop-color="#a8181c"/></linearGradient>
<clipPath id="c20"><rect x="301.90" y="511.20" width="195.40" height="20.70"/></clipPath>
</defs>
<rect x="0" y="0" width="520" height="672" fill="#fff"/>
<rect x="0" y="0" width="520" height="1.2" fill="#000"/>
<rect x="0" y="0" width="1.3" height="672" fill="#000"/>
<rect x="518.6" y="0" width="1.4" height="672" fill="#000"/>
<rect x="0" y="669.6" width="520" height="2.4" fill="#000"/>
<text x="156.90" y="17.00" font-size="9.5" text-anchor="middle" textLength="68.80" lengthAdjust="spacingAndGlyphs">Repleted plasma</text>
<text x="396.30" y="17.00" font-size="9.5" text-anchor="middle" textLength="62.60" lengthAdjust="spacingAndGlyphs">LEADS plasma</text>
<path d="M45.80 22.60L268.00 22.60" stroke="#231f20" stroke-width="1.0" stroke-linecap="butt" fill="none"/>
<path d="M289.50 22.60L511.30 22.60" stroke="#231f20" stroke-width="1.0" stroke-linecap="butt" fill="none"/>
<path d="M26.60 38.00L26.60 333.50" stroke="#231f20" stroke-width="1.2" stroke-linecap="butt" fill="none"/>
<path d="M26.10 362.30L26.10 660.80" stroke="#231f20" stroke-width="1.2" stroke-linecap="butt" fill="none"/>
<text x="18.30" y="192.30" font-size="9.6" text-anchor="middle" font-weight="bold" textLength="23.00" lengthAdjust="spacingAndGlyphs" transform="rotate(-90 18.30 192.30)">500 s<tspan dy="-3.6" font-size="6">−1</tspan></text>
<text x="18.30" y="520.50" font-size="9.6" text-anchor="middle" font-weight="bold" textLength="21.00" lengthAdjust="spacingAndGlyphs" transform="rotate(-90 18.30 520.50)">150 s<tspan dy="-3.6" font-size="6">−1</tspan></text>
<text x="33.30" y="38.00" font-size="11.4" font-weight="bold" fill="#000">A</text>
<text x="285.00" y="37.50" font-size="11.4" font-weight="bold" fill="#000">F</text>
<text x="33.40" y="146.80" font-size="11.4" font-weight="bold" fill="#000">B</text>
<text x="285.00" y="144.80" font-size="11.4" font-weight="bold" fill="#000">G</text>
<text x="34.00" y="234.00" font-size="11.4" font-weight="bold" fill="#000">C</text>
<text x="108.60" y="234.00" font-size="11.4" font-weight="bold" fill="#000">D</text>
<text x="178.00" y="234.00" font-size="11.4" font-weight="bold" fill="#000">E</text>
<text x="285.20" y="233.80" font-size="11.4" font-weight="bold" fill="#000">H</text>
<text x="360.20" y="233.80" font-size="11.4" font-weight="bold" fill="#000">I</text>
<text x="428.00" y="233.80" font-size="11.4" font-weight="bold" fill="#000">J</text>
<text x="33.60" y="364.00" font-size="11.4" font-weight="bold" fill="#000">K</text>
<text x="285.00" y="363.80" font-size="11.4" font-weight="bold" fill="#000">P</text>
<text x="35.00" y="471.80" font-size="11.4" font-weight="bold" fill="#000">L</text>
<text x="284.60" y="473.60" font-size="11.4" font-weight="bold" fill="#000">Q</text>
<text x="35.00" y="560.20" font-size="11.4" font-weight="bold" fill="#000">M</text>
<text x="108.60" y="560.20" font-size="11.4" font-weight="bold" fill="#000">N</text>
<text x="177.40" y="560.20" font-size="11.4" font-weight="bold" fill="#000">O</text>
<text x="285.50" y="560.40" font-size="11.4" font-weight="bold" fill="#000">R</text>
<text x="360.40" y="560.40" font-size="11.4" font-weight="bold" fill="#000">S</text>
<text x="428.80" y="560.40" font-size="11.4" font-weight="bold" fill="#000">T</text>
<rect x="85" y="128.5" width="143.60" height="7.50" fill="url(#cb)"/>
<rect x="85.25" y="128.20" width="2.3" height="8.10" fill="#111"/>
<text x="86.70" y="145.10" font-size="7.5" text-anchor="middle">0<tspan dx="1.3">μm</tspan></text>
<rect x="113.65" y="128.20" width="2.3" height="8.10" fill="#111"/>
<text x="115.10" y="145.10" font-size="7.5" text-anchor="middle">10<tspan dx="1.3">μm</tspan></text>
<rect x="141.85" y="128.20" width="2.3" height="8.10" fill="#111"/>
<text x="143.30" y="145.10" font-size="7.5" text-anchor="middle">20<tspan dx="1.3">μm</tspan></text>
<rect x="170.15" y="128.20" width="2.3" height="8.10" fill="#111"/>
<text x="171.60" y="145.10" font-size="7.5" text-anchor="middle">30<tspan dx="1.3">μm</tspan></text>
<rect x="198.55" y="128.20" width="2.3" height="8.10" fill="#111"/>
<text x="200.00" y="145.10" font-size="7.5" text-anchor="middle">40<tspan dx="1.3">μm</tspan></text>
<rect x="226.85" y="128.20" width="2.3" height="8.10" fill="#111"/>
<text x="228.30" y="145.10" font-size="7.5" text-anchor="middle">50<tspan dx="1.3">μm</tspan></text>
<rect x="328.3" y="129.8" width="143.90" height="7.50" fill="url(#cb)"/>
<rect x="328.55" y="129.50" width="2.3" height="8.10" fill="#111"/>
<text x="330.00" y="146.60" font-size="7.5" text-anchor="middle">0<tspan dx="1.3">μm</tspan></text>
<rect x="356.95" y="129.50" width="2.3" height="8.10" fill="#111"/>
<text x="358.40" y="146.60" font-size="7.5" text-anchor="middle">10<tspan dx="1.3">μm</tspan></text>
<rect x="385.25" y="129.50" width="2.3" height="8.10" fill="#111"/>
<text x="386.70" y="146.60" font-size="7.5" text-anchor="middle">20<tspan dx="1.3">μm</tspan></text>
<rect x="413.45" y="129.50" width="2.3" height="8.10" fill="#111"/>
<text x="414.90" y="146.60" font-size="7.5" text-anchor="middle">30<tspan dx="1.3">μm</tspan></text>
<rect x="441.65" y="129.50" width="2.3" height="8.10" fill="#111"/>
<text x="443.10" y="146.60" font-size="7.5" text-anchor="middle">40<tspan dx="1.3">μm</tspan></text>
<rect x="469.85" y="129.50" width="2.3" height="8.10" fill="#111"/>
<text x="471.30" y="146.60" font-size="7.5" text-anchor="middle">50<tspan dx="1.3">μm</tspan></text>
<rect x="87.3" y="452.6" width="143.70" height="7.60" fill="url(#cb)"/>
<rect x="87.55" y="452.30" width="2.3" height="8.20" fill="#111"/>
<text x="89.00" y="469.90" font-size="7.5" text-anchor="middle">0<tspan dx="1.3">μm</tspan></text>
<rect x="115.85" y="452.30" width="2.3" height="8.20" fill="#111"/>
<text x="117.30" y="469.90" font-size="7.5" text-anchor="middle">10<tspan dx="1.3">μm</tspan></text>
<rect x="144.05" y="452.30" width="2.3" height="8.20" fill="#111"/>
<text x="145.50" y="469.90" font-size="7.5" text-anchor="middle">20<tspan dx="1.3">μm</tspan></text>
<rect x="172.25" y="452.30" width="2.3" height="8.20" fill="#111"/>
<text x="173.70" y="469.90" font-size="7.5" text-anchor="middle">30<tspan dx="1.3">μm</tspan></text>
<rect x="200.45" y="452.30" width="2.3" height="8.20" fill="#111"/>
<text x="201.90" y="469.90" font-size="7.5" text-anchor="middle">40<tspan dx="1.3">μm</tspan></text>
<rect x="228.75" y="452.30" width="2.3" height="8.20" fill="#111"/>
<text x="230.20" y="469.90" font-size="7.5" text-anchor="middle">50<tspan dx="1.3">μm</tspan></text>
<rect x="329" y="452.1" width="143.80" height="7.80" fill="url(#cb)"/>
<rect x="329.05" y="451.80" width="2.3" height="8.40" fill="#111"/>
<text x="330.50" y="469.90" font-size="7.5" text-anchor="middle">0<tspan dx="1.3">μm</tspan></text>
<rect x="357.35" y="451.80" width="2.3" height="8.40" fill="#111"/>
<text x="358.80" y="469.90" font-size="7.5" text-anchor="middle">10<tspan dx="1.3">μm</tspan></text>
<rect x="385.65" y="451.80" width="2.3" height="8.40" fill="#111"/>
<text x="387.10" y="469.90" font-size="7.5" text-anchor="middle">20<tspan dx="1.3">μm</tspan></text>
<rect x="413.85" y="451.80" width="2.3" height="8.40" fill="#111"/>
<text x="415.30" y="469.90" font-size="7.5" text-anchor="middle">30<tspan dx="1.3">μm</tspan></text>
<rect x="442.15" y="451.80" width="2.3" height="8.40" fill="#111"/>
<text x="443.60" y="469.90" font-size="7.5" text-anchor="middle">40<tspan dx="1.3">μm</tspan></text>
<rect x="470.45" y="451.80" width="2.3" height="8.40" fill="#111"/>
<text x="471.90" y="469.90" font-size="7.5" text-anchor="middle">50<tspan dx="1.3">μm</tspan></text>
<g clip-path="url(#c1)">
<rect x="41.8" y="47" width="77.50" height="76.80" fill="#ffffff"/>
<g mask="url(#om1)">
<g filter="url(#tA1)">
<rect x="41.8" y="47" width="77.5" height="76.8" fill="#8e1216"/>
</g>
<g filter="url(#b1)">
<ellipse cx="62.9" cy="65.5" rx="6.0" ry="3.2" fill="#e8281c"/>
<ellipse cx="63.7" cy="65.2" rx="2.8" ry="1.6" fill="#ff4a1e"/>
<ellipse cx="51.0" cy="89.2" rx="4.7" ry="2.8" fill="#e8281c"/>
<ellipse cx="58.9" cy="95.8" rx="4.4" ry="2.5" fill="#e8281c"/>
<ellipse cx="59.2" cy="95.8" rx="1.9" ry="1.3" fill="#ff4a1e"/>
<ellipse cx="73.9" cy="98.6" rx="6.6" ry="2.8" fill="#e8281c"/>
<ellipse cx="73.9" cy="98.9" rx="3.5" ry="1.4" fill="#ff4a1e"/>
<ellipse cx="46.3" cy="80.5" rx="2.2" ry="3.5" fill="#e8281c"/>
<ellipse cx="93.6" cy="96.3" rx="4.7" ry="2.2" fill="#b81b1e"/>
<ellipse cx="107.8" cy="97.0" rx="4.7" ry="2.2" fill="#b81b1e"/>
<ellipse cx="47.9" cy="108.1" rx="3.2" ry="3.9" fill="#b81b1e"/>
</g>
<g filter="url(#vA1)">
<rect x="41.8" y="47" width="77.5" height="76.8" fill="#7d0f14"/>
</g>
</g>
</g>
<rect x="42.85" y="48.05" width="75.40" height="74.70" fill="none" stroke="#be1e2d" stroke-width="2.1"/>
<g clip-path="url(#c2)">
<rect x="120.5" y="47" width="77.40" height="76.80" fill="#ffffff"/>
<g mask="url(#om2)">
<g filter="url(#tA2)">
<rect x="120.5" y="47" width="77.4" height="76.8" fill="#a5161a"/>
</g>
<g filter="url(#b1)">
<ellipse cx="157.4" cy="84.4" rx="30.0" ry="17.3" fill="#d8481e" transform="rotate(-15 157.4 84.4)" opacity="0.35"/>
<ellipse cx="159.0" cy="49.7" rx="44.2" ry="11.0" fill="#8a1416" opacity="0.55"/>
<ellipse cx="159.0" cy="122.3" rx="44.2" ry="11.8" fill="#8a1416" opacity="0.55"/>
<ellipse cx="193.7" cy="86.0" rx="9.5" ry="34.7" fill="#8a1416" opacity="0.5"/>
<ellipse cx="151.1" cy="80.5" rx="9.5" ry="5.5" fill="#8a1416" transform="rotate(-20 151.1 80.5)" opacity="0.5"/>
<ellipse cx="122.7" cy="63.9" rx="6.3" ry="12.6" fill="#8a1416" opacity="0.4"/>
<ellipse cx="129.0" cy="80.5" rx="5.5" ry="3.9" fill="#e2501e"/>
<ellipse cx="138.5" cy="74.2" rx="7.9" ry="3.9" fill="#e2501e" transform="rotate(-25 138.5 74.2)"/>
<ellipse cx="152.7" cy="71.5" rx="9.5" ry="3.2" fill="#e2501e"/>
<ellipse cx="164.5" cy="68.7" rx="4.4" ry="4.7" fill="#f47a22"/>
<ellipse cx="181.1" cy="61.6" rx="3.2" ry="3.2" fill="#e2501e"/>
<ellipse cx="144.8" cy="62.3" rx="7.1" ry="2.4" fill="#e2501e" opacity="0.7"/>
<ellipse cx="162.2" cy="54.5" rx="3.5" ry="2.8" fill="#e2501e" opacity="0.7"/>
<ellipse cx="127.5" cy="110.0" rx="5.0" ry="3.5" fill="#f47a22"/>
<ellipse cx="133.8" cy="86.3" rx="3.5" ry="3.5" fill="#e2501e"/>
<ellipse cx="124.3" cy="95.8" rx="2.5" ry="3.5" fill="#e2501e"/>
<ellipse cx="173.2" cy="115.2" rx="5.5" ry="3.9" fill="#e2501e"/>
<ellipse cx="176.7" cy="117.5" rx="2.5" ry="2.2" fill="#ffa030"/>
<ellipse cx="185.8" cy="92.3" rx="3.5" ry="3.2" fill="#e2501e"/>
<ellipse cx="160.6" cy="103.7" rx="3.5" ry="3.2" fill="#e2501e"/>
<ellipse cx="143.2" cy="97.8" rx="7.1" ry="3.5" fill="#f47a22" transform="rotate(-30 143.2 97.8)"/>
<ellipse cx="151.9" cy="92.3" rx="7.9" ry="3.8" fill="#f47a22" transform="rotate(-35 151.9 92.3)"/>
<ellipse cx="163.7" cy="87.3" rx="9.5" ry="3.8" fill="#ffa030" transform="rotate(-5 163.7 87.3)"/>
<ellipse cx="176.4" cy="91.0" rx="7.1" ry="2.8" fill="#f47a22" transform="rotate(25 176.4 91.0)"/>
<ellipse cx="165.3" cy="87.3" rx="4.7" ry="1.9" fill="#ffb638"/>
<ellipse cx="187.4" cy="111.2" rx="3.2" ry="3.2" fill="#e2501e" opacity="0.8"/>
<ellipse cx="138.5" cy="111.2" rx="3.2" ry="2.4" fill="#e2501e" opacity="0.7"/>
<ellipse cx="191.3" cy="84.4" rx="2.8" ry="3.9" fill="#e2501e" opacity="0.7"/>
</g>
<g filter="url(#vA2)">
<rect x="120.5" y="47" width="77.4" height="76.8" fill="#7d0f14"/>
</g>
</g>
</g>
<rect x="121.55" y="48.05" width="75.30" height="74.70" fill="none" stroke="#1b5a9b" stroke-width="2.1"/>
<g clip-path="url(#c3)">
<rect x="199.2" y="47" width="77.00" height="76.80" fill="#ffffff"/>
<g mask="url(#om3)">
<g filter="url(#tA3)">
<rect x="199.2" y="47" width="77.0" height="76.8" fill="#8e1216"/>
</g>
<g filter="url(#wA3)">
<path d="M249.0 59.2C252.5 56.8 259.0 55.8 263.2 56.0C267.4 56.3 272.4 57.6 274.3 60.8C276.1 63.9 276.6 72.3 274.3 75.0C271.9 77.6 264.0 74.7 260.1 76.5C256.1 78.4 253.2 83.4 250.6 86.0C248.0 88.6 247.5 91.5 244.3 92.3C241.2 93.1 233.5 93.1 231.7 90.7C229.9 88.4 231.4 81.5 233.3 78.1C235.1 74.7 240.1 73.4 242.7 70.2C245.4 67.1 245.6 61.6 249.0 59.2Z" fill="#454a1e"/>
<ellipse cx="217.5" cy="64.7" rx="14.2" ry="1.3" fill="#454a1e" transform="rotate(-17 217.5 64.7)"/>
<ellipse cx="253.8" cy="65.5" rx="7.9" ry="4.7" fill="#3f5420"/>
<path d="M203.3 97.0C205.4 91.9 210.9 92.6 215.9 92.3C220.9 92.0 228.0 95.5 233.3 95.5C238.5 95.5 242.5 93.6 247.5 92.3C252.5 91.0 258.6 89.4 263.2 87.6C267.8 85.7 273.1 80.5 275.1 81.3C277.0 82.1 277.0 89.4 275.1 92.3C273.1 95.2 265.7 96.3 263.2 98.6C260.7 101.0 263.2 105.5 260.1 106.5C256.9 107.6 248.5 103.9 244.3 104.9C240.1 106.0 236.7 109.8 234.8 112.8C233.0 115.8 238.5 121.4 233.3 123.1C228.0 124.8 208.3 127.4 203.3 123.1C198.3 118.7 201.2 102.2 203.3 97.0Z" fill="#1e9f45"/>
<ellipse cx="249.0" cy="99.4" rx="12.6" ry="5.5" fill="#0f7434"/>
<ellipse cx="264.8" cy="116.0" rx="9.5" ry="1.3" fill="#0f7434" transform="rotate(-27 264.8 116.0)"/>
</g>
<g filter="url(#wA3)">
<path d="M204.9 101.8C205.7 98.4 208.0 96.6 211.2 95.5C214.3 94.4 220.0 94.8 223.8 95.1C227.6 95.5 232.6 95.7 234.1 97.8C235.5 100.0 233.4 104.5 232.5 108.1C231.6 111.6 231.3 116.9 228.5 119.1C225.8 121.4 219.6 122.0 215.9 121.5C212.2 121.0 208.3 119.3 206.5 116.0C204.6 112.7 204.1 105.2 204.9 101.8Z" fill="#46c044"/>
<ellipse cx="218.3" cy="107.3" rx="10.3" ry="10.3" fill="#86d24a"/>
<ellipse cx="268.8" cy="87.3" rx="3.9" ry="3.9" fill="#46c044"/>
<ellipse cx="253.8" cy="92.3" rx="9.5" ry="2.8" fill="#1e9f45"/>
<ellipse cx="236.4" cy="97.0" rx="6.3" ry="2.4" fill="#1e9f45"/>
</g>
</g>
</g>
<rect x="200.25" y="48.05" width="74.90" height="74.70" fill="none" stroke="#2bb34b" stroke-width="2.1"/>
<g clip-path="url(#c4)">
<rect x="323" y="47" width="76.60" height="76.80" fill="#ffffff"/>
<g mask="url(#om4)">
<g>
<rect x="323" y="47" width="76.6" height="76.8" fill="#a5161a"/>
</g>
<g filter="url(#b1)">
<ellipse cx="344.7" cy="82.4" rx="4.4" ry="2.5" fill="#e8281c"/>
<ellipse cx="357.6" cy="80.6" rx="7.1" ry="3.2" fill="#e8281c"/>
<ellipse cx="358.1" cy="80.6" rx="3.5" ry="1.6" fill="#ff4a1e"/>
<ellipse cx="369.9" cy="82.4" rx="3.5" ry="2.2" fill="#e8281c"/>
<ellipse cx="385.7" cy="72.6" rx="1.9" ry="1.9" fill="#b81b1e"/>
<ellipse cx="395.4" cy="78.9" rx="1.9" ry="2.5" fill="#e8281c"/>
<ellipse cx="372.3" cy="92.3" rx="2.2" ry="2.2" fill="#e8281c"/>
<ellipse cx="336.0" cy="106.2" rx="5.0" ry="4.7" fill="#e8281c"/>
<ellipse cx="336.0" cy="106.5" rx="2.5" ry="2.2" fill="#ff4a1e"/>
<ellipse cx="330.5" cy="98.9" rx="3.5" ry="3.5" fill="#e8281c"/>
<ellipse cx="395.4" cy="104.1" rx="1.9" ry="3.2" fill="#e8281c"/>
<ellipse cx="332.0" cy="53.7" rx="3.9" ry="1.3" fill="#b81b1e"/>
</g>
</g>
</g>
<rect x="324.05" y="48.05" width="74.50" height="74.70" fill="none" stroke="#be1e2d" stroke-width="2.1"/>
<g clip-path="url(#c5)">
<rect x="401.2" y="47" width="76.80" height="76.80" fill="#ffffff"/>
<g mask="url(#om5)">
<g>
<rect x="401.2" y="47" width="76.8" height="76.8" fill="#b21a24"/>
</g>
</g>
<g mask="url(#om6)">
<g>
<rect x="401.2" y="47" width="76.8" height="76.8" fill="#22a846"/>
</g>
<g filter="url(#b1)">
<ellipse cx="441.6" cy="51.6" rx="4.1" ry="3.8" fill="#2a7a38"/>
<ellipse cx="462.1" cy="64.7" rx="7.6" ry="3.8" fill="#2a7a38"/>
<ellipse cx="461.3" cy="100.2" rx="6.0" ry="7.6" fill="#2a7a38"/>
<ellipse cx="451.0" cy="86.0" rx="7.9" ry="12.6" fill="#3a7a30"/>
</g>
<g filter="url(#b1)">
<path d="M413.2 97.8C413.6 95.2 419.5 91.8 422.7 88.4C425.8 85.0 429.4 80.4 432.1 77.3C434.9 74.3 436.7 71.7 439.2 70.2C441.7 68.8 445.5 67.6 447.1 68.7C448.7 69.7 449.7 73.3 448.7 76.5C447.6 79.8 443.8 84.8 440.8 88.4C437.8 91.9 434.0 95.2 430.5 97.8C427.1 100.5 423.2 104.1 420.3 104.1C417.4 104.1 412.8 100.5 413.2 97.8Z" fill="#4cc44a"/>
<ellipse cx="435.3" cy="82.5" rx="7.1" ry="3.2" fill="#7ad44e" transform="rotate(-45 435.3 82.5)"/>
<ellipse cx="422.7" cy="95.5" rx="6.3" ry="1.9" fill="#7ad44e" transform="rotate(-42 422.7 95.5)" opacity="0.7"/>
</g>
</g>
</g>
<rect x="402.25" y="48.05" width="74.70" height="74.70" fill="none" stroke="#2bb34b" stroke-width="2.1"/>
<g clip-path="url(#c6)">
<rect x="42" y="371.8" width="77.30" height="76.50" fill="#ffffff"/>
<g mask="url(#om7)">
<g filter="url(#tK1)">
<rect x="42" y="371.8" width="77.3" height="76.5" fill="#8e1216"/>
</g>
</g>
</g>
<rect x="43.05" y="372.85" width="75.20" height="74.40" fill="none" stroke="#be1e2d" stroke-width="2.1"/>
<g clip-path="url(#c7)">
<rect x="120.5" y="371.8" width="77.50" height="76.50" fill="#ffffff"/>
<g mask="url(#om8)">
<g filter="url(#tK2)">
<rect x="120.5" y="371.8" width="77.5" height="76.5" fill="#a5161a"/>
</g>
<g filter="url(#wK2)">
<ellipse cx="132.2" cy="385.0" rx="9.8" ry="6.6" fill="#1c7a30"/>
<ellipse cx="172.4" cy="387.3" rx="9.1" ry="3.5" fill="#2c6a2a"/>
<ellipse cx="185.8" cy="390.8" rx="6.3" ry="1.6" fill="#5a5a22" transform="rotate(10 185.8 390.8)"/>
<ellipse cx="138.5" cy="409.4" rx="17.7" ry="4.7" fill="#4a6a26" transform="rotate(-10 138.5 409.4)"/>
<ellipse cx="155.8" cy="417.3" rx="9.8" ry="1.7" fill="#5a5a22" transform="rotate(-15 155.8 417.3)"/>
<ellipse cx="141.7" cy="439.4" rx="9.8" ry="2.2" fill="#5a5a22" transform="rotate(-20 141.7 439.4)"/>
<ellipse cx="184.2" cy="433.9" rx="14.5" ry="8.2" fill="#2a9c3a"/>
</g>
<g filter="url(#wK2)">
<ellipse cx="133.8" cy="384.2" rx="5.0" ry="3.5" fill="#2a9c3a"/>
<ellipse cx="136.9" cy="409.7" rx="11.4" ry="2.2" fill="#3cb040" transform="rotate(-10 136.9 409.7)"/>
<ellipse cx="185.8" cy="433.1" rx="8.2" ry="4.4" fill="#3cb040"/>
<ellipse cx="179.5" cy="437.8" rx="4.7" ry="2.4" fill="#3cb040"/>
</g>
</g>
</g>
<rect x="121.55" y="372.85" width="75.40" height="74.40" fill="none" stroke="#1b5a9b" stroke-width="2.1"/>
<g clip-path="url(#c8)">
<rect x="200" y="371.8" width="76.30" height="76.50" fill="#ffffff"/>
<g mask="url(#om9)">
<g filter="url(#tK3)">
<rect x="200" y="371.8" width="76.3" height="76.5" fill="#1e9a3e"/>
</g>
<g filter="url(#b2)">
<ellipse cx="228.5" cy="406.3" rx="14.2" ry="11.0" fill="#2cb048" opacity="0.45"/>
<ellipse cx="228.5" cy="406.0" rx="1.3" ry="1.3" fill="#8ad04a"/>
</g>
<g filter="url(#vK3)">
<rect x="200" y="371.8" width="76.3" height="76.5" fill="#000"/>
</g>
<g filter="url(#wK3)">
<ellipse cx="204.9" cy="377.9" rx="4.7" ry="3.5" fill="#98242a" opacity="0.8"/>
<ellipse cx="206.5" cy="400.0" rx="4.7" ry="6.6" fill="#6a4a24" opacity="0.8"/>
<ellipse cx="266.4" cy="388.9" rx="11.0" ry="3.2" fill="#3f5a24" transform="rotate(40 266.4 388.9)"/>
<ellipse cx="256.9" cy="381.0" rx="9.5" ry="1.9" fill="#3f5a24" transform="rotate(35 256.9 381.0)"/>
<ellipse cx="244.3" cy="377.9" rx="6.3" ry="1.6" fill="#3f5a24" transform="rotate(20 244.3 377.9)"/>
<ellipse cx="268.0" cy="401.5" rx="5.5" ry="2.2" fill="#98242a" transform="rotate(20 268.0 401.5)" opacity="0.8"/>
<ellipse cx="273.5" cy="397.6" rx="1.9" ry="3.2" fill="#98242a" opacity="0.8"/>
<ellipse cx="252.2" cy="423.6" rx="8.2" ry="2.8" fill="#6a4a24" transform="rotate(10 252.2 423.6)" opacity="0.8"/>
<ellipse cx="264.0" cy="433.1" rx="8.2" ry="3.2" fill="#98242a" opacity="0.8"/>
<ellipse cx="215.9" cy="436.2" rx="8.2" ry="4.4" fill="#6a4a24" transform="rotate(-20 215.9 436.2)" opacity="0.8"/>
<ellipse cx="223.8" cy="444.8" rx="6.3" ry="1.6" fill="#98242a" opacity="0.8"/>
<ellipse cx="237.2" cy="385.0" rx="2.4" ry="2.4" fill="#1c6a2c"/>
<ellipse cx="239.6" cy="411.3" rx="6.6" ry="1.4" fill="#6a4a24" transform="rotate(10 239.6 411.3)" opacity="0.7"/>
<ellipse cx="271.1" cy="439.4" rx="4.7" ry="2.8" fill="#98242a" opacity="0.7"/>
<ellipse cx="249.0" cy="444.1" rx="6.3" ry="1.9" fill="#3f5a24"/>
<ellipse cx="212.8" cy="417.3" rx="6.3" ry="2.2" fill="#167a34" transform="rotate(-30 212.8 417.3)"/>
<ellipse cx="249.0" cy="409.4" rx="9.5" ry="2.2" fill="#167a34" transform="rotate(25 249.0 409.4)"/>
</g>
</g>
</g>
<rect x="201.05" y="372.85" width="74.20" height="74.40" fill="none" stroke="#2bb34b" stroke-width="2.1"/>
<g clip-path="url(#c9)">
<rect x="323.8" y="372.5" width="76.80" height="76.30" fill="#ffffff"/>
<g mask="url(#om10)">
<g filter="url(#tP1)">
<rect x="323.8" y="372.5" width="76.8" height="76.3" fill="#a5161a"/>
</g>
<g filter="url(#wP1)">
<ellipse cx="362.0" cy="381.8" rx="6.6" ry="2.7" fill="#84682a"/>
<ellipse cx="387.2" cy="381.8" rx="9.1" ry="2.5" fill="#6e5a26"/>
<ellipse cx="330.5" cy="385.8" rx="5.7" ry="1.9" fill="#6e5a26"/>
<ellipse cx="352.5" cy="399.2" rx="14.2" ry="2.1" fill="#84682a"/>
<ellipse cx="388.8" cy="397.6" rx="5.7" ry="2.2" fill="#6e5a26"/>
<ellipse cx="328.9" cy="415.7" rx="3.8" ry="4.7" fill="#6e5a26"/>
<ellipse cx="365.2" cy="411.8" rx="3.9" ry="1.9" fill="#84682a"/>
<ellipse cx="384.1" cy="414.9" rx="3.8" ry="4.7" fill="#6e5a26"/>
<ellipse cx="369.9" cy="426.8" rx="7.6" ry="2.5" fill="#84682a"/>
<ellipse cx="341.5" cy="439.4" rx="9.1" ry="2.5" fill="#84682a"/>
<ellipse cx="379.4" cy="443.3" rx="9.1" ry="2.2" fill="#6e5a26"/>
<ellipse cx="397.5" cy="429.9" rx="1.9" ry="2.8" fill="#6e5a26"/>
<ellipse cx="339.1" cy="439.1" rx="1.9" ry="1.4" fill="#d8c030"/>
<ellipse cx="347.8" cy="388.9" rx="6.3" ry="1.6" fill="#6e5a26" opacity="0.7"/>
<ellipse cx="374.6" cy="390.5" rx="4.7" ry="1.6" fill="#6e5a26" opacity="0.7"/>
<ellipse cx="339.9" cy="423.6" rx="6.3" ry="1.6" fill="#6e5a26" opacity="0.7"/>
<ellipse cx="392.0" cy="439.4" rx="4.7" ry="1.9" fill="#6e5a26" opacity="0.7"/>
<ellipse cx="360.4" cy="417.3" rx="6.3" ry="1.3" fill="#6e5a26" opacity="0.6"/>
</g>
</g>
</g>
<rect x="324.85" y="373.55" width="74.70" height="74.20" fill="none" stroke="#be1e2d" stroke-width="2.1"/>
<g clip-path="url(#c10)">
<rect x="403" y="372.5" width="76.50" height="76.30" fill="#ffffff"/>
<g mask="url(#om11)">
<g filter="url(#tP2)">
<rect x="403" y="372.5" width="76.5" height="76.3" fill="#1a3072"/>
</g>
<g filter="url(#wP2)">
<rect x="390.5" y="360.5" width="100.9" height="100.9" fill="#1a3072"/>
<rect x="403.2" y="373.2" width="75.7" height="18.9" fill="#52261c"/>
<ellipse cx="417.3" cy="382.6" rx="15.8" ry="6.3" fill="#701a1e"/>
<ellipse cx="463.1" cy="378.7" rx="18.1" ry="4.7" fill="#1e4228"/>
<ellipse cx="439.4" cy="376.0" rx="8.7" ry="1.9" fill="#214a9c"/>
<ellipse cx="423.7" cy="387.3" rx="18.9" ry="3.8" fill="#52261c"/>
<ellipse cx="445.7" cy="384.5" rx="6.6" ry="2.5" fill="#214a9c"/>
<ellipse cx="461.5" cy="385.8" rx="9.8" ry="3.2" fill="#285a36"/>
<ellipse cx="463.9" cy="383.4" rx="3.2" ry="1.3" fill="#214a9c"/>
<ellipse cx="470.2" cy="389.2" rx="3.9" ry="1.6" fill="#701a1e"/>
<rect x="403.2" y="391.3" width="75.7" height="18.1" fill="#1a3072"/>
<ellipse cx="409.5" cy="394.0" rx="5.7" ry="3.8" fill="#1f6a36"/>
<ellipse cx="470.2" cy="397.6" rx="8.2" ry="3.8" fill="#286438"/>
<rect x="403.2" y="408.6" width="75.7" height="8.7" fill="#1e4228"/>
<ellipse cx="447.3" cy="412.3" rx="3.2" ry="1.3" fill="#214a9c"/>
<ellipse cx="409.5" cy="415.7" rx="6.3" ry="3.5" fill="#701a1e"/>
<rect x="403.2" y="416.5" width="75.7" height="7.9" fill="#383c1e"/>
<ellipse cx="444.5" cy="421.3" rx="4.7" ry="1.6" fill="#214a9c"/>
<ellipse cx="468.6" cy="422.0" rx="9.8" ry="3.2" fill="#52261c"/>
<ellipse cx="423.7" cy="422.0" rx="12.6" ry="2.2" fill="#4a3a1e"/>
<rect x="403.2" y="424.4" width="75.7" height="8.7" fill="#1a3072"/>
<ellipse cx="452.8" cy="428.0" rx="14.5" ry="4.1" fill="#52261c"/>
<ellipse cx="469.7" cy="426.8" rx="6.6" ry="1.9" fill="#214a9c"/>
<ellipse cx="472.9" cy="433.1" rx="5.7" ry="3.2" fill="#701a1e"/>
<rect x="403.2" y="433.1" width="75.7" height="15.8" fill="#1e4228"/>
<ellipse cx="422.1" cy="440.2" rx="18.6" ry="6.6" fill="#1f6a36"/>
<ellipse cx="444.2" cy="437.8" rx="9.5" ry="3.5" fill="#222c48"/>
<ellipse cx="463.1" cy="440.2" rx="15.8" ry="5.0" fill="#36582a"/>
<ellipse cx="447.3" cy="446.0" rx="15.8" ry="2.2" fill="#383c1e"/>
</g>
<g filter="url(#b1)">
<ellipse cx="418.9" cy="397.1" rx="4.7" ry="3.8" fill="#214a9c"/>
<ellipse cx="450.5" cy="403.1" rx="6.3" ry="2.8" fill="#214a9c" opacity="0.6"/>
<ellipse cx="418.6" cy="396.5" rx="1.6" ry="1.6" fill="#4a8ae0"/>
<ellipse cx="451.3" cy="403.4" rx="1.3" ry="0.9" fill="#4a8ae0"/>
<ellipse cx="415.8" cy="439.4" rx="7.9" ry="3.5" fill="#24843e"/>
<ellipse cx="439.4" cy="400.0" rx="23.7" ry="4.7" fill="#1c347c" opacity="0.7"/>
</g>
</g>
</g>
<rect x="404.05" y="373.55" width="74.40" height="74.20" fill="none" stroke="#2bb34b" stroke-width="2.1"/>
<g clip-path="url(#c11)">
<rect x="60.5" y="149.3" width="197.10" height="23.10" fill="#fff"/>
<g>
<g filter="url(#b05)">
<path d="M58.0 167.8C60.0 167.7 64.9 167.7 69.8 167.4C74.7 167.1 81.2 166.4 87.4 166.2C93.6 166.0 103.3 166.0 107.0 166.2C110.8 166.4 109.1 166.9 110.0 167.4C110.9 167.9 111.6 169.4 112.5 169.4C113.4 169.4 113.6 167.9 115.3 167.4C117.0 166.9 118.5 166.6 122.7 166.4C126.9 166.3 134.5 166.4 140.4 166.4C146.3 166.5 153.8 166.6 158.0 166.6C162.3 166.6 163.1 166.5 165.8 166.6C168.6 166.7 172.7 166.9 174.7 167.2C176.6 167.5 175.3 168.3 177.6 168.6C179.9 168.9 186.1 169.2 188.4 169.0C190.7 168.7 188.9 167.6 191.3 167.2C193.8 166.8 197.9 166.5 203.1 166.4C208.3 166.4 216.5 166.8 222.7 166.8C228.9 166.8 234.8 166.6 240.4 166.6C245.9 166.6 253.5 166.9 256.1 167.0L256.1 172.0L58.0 172.0Z" fill="#e3202a"/>
</g>
</g>
</g>
<rect x="61.55" y="150.35" width="195.00" height="21.00" fill="none" stroke="#be1e2d" stroke-width="2.1"/>
<g clip-path="url(#c12)">
<rect x="60.5" y="173.8" width="197.10" height="23.20" fill="#fff"/>
<g>
<g filter="url(#b05)">
<path d="M58.0 189.6C60.0 189.5 65.5 189.0 69.8 189.0C74.0 188.9 78.9 189.2 83.5 189.4C88.1 189.5 94.1 189.3 97.2 189.8C100.3 190.2 98.9 191.5 102.1 192.1C105.4 192.7 111.8 193.1 116.8 193.3C121.9 193.5 128.0 193.4 132.5 193.3C137.1 193.2 141.5 193.4 144.3 192.9C147.1 192.4 146.9 191.1 149.2 190.5C151.5 190.0 155.6 189.6 158.0 189.4C160.5 189.2 160.6 189.3 163.9 189.4C167.1 189.4 173.9 189.5 177.6 189.6C181.4 189.7 184.5 189.7 186.4 190.0C188.4 190.2 187.9 190.9 189.4 190.9C190.9 191.0 193.1 190.3 195.3 190.4C197.4 190.4 200.5 191.0 202.1 191.3C203.8 191.7 201.6 192.3 205.1 192.5C208.5 192.7 216.8 192.7 222.7 192.7C228.6 192.7 234.8 192.5 240.4 192.5C245.9 192.5 253.5 192.8 256.1 192.9L256.1 197.0L58.0 197.0Z" fill="url(#gB2)"/>
</g>
</g>
</g>
<rect x="61.55" y="174.85" width="195.00" height="21.10" fill="none" stroke="#1b5a9b" stroke-width="2.1"/>
<g clip-path="url(#c13)">
<rect x="60.5" y="198.3" width="197.10" height="23.00" fill="#fff"/>
<g>
<g filter="url(#b05)">
<path d="M58.0 213.3C60.0 213.0 64.9 212.3 69.8 211.7C74.7 211.2 81.2 210.7 87.4 210.2C93.6 209.6 101.2 209.1 107.0 208.6C112.9 208.1 117.2 207.5 122.7 207.4C128.3 207.4 134.5 207.9 140.4 208.2C146.3 208.5 154.4 209.1 158.0 209.4C161.6 209.7 160.5 209.7 161.9 210.2C163.4 210.6 165.2 211.5 166.8 212.1C168.5 212.7 169.3 213.4 171.7 213.7C174.2 214.0 179.9 214.0 181.5 214.1L181.5 221.0L58.0 221.0Z" fill="#6f8a2a" opacity="0.9"/>
<path d="M58.0 213.3C61.3 213.2 69.4 213.0 77.6 212.9C85.8 212.8 97.2 212.9 107.0 212.9C116.8 212.9 128.0 212.9 136.5 212.9C145.0 212.9 152.5 212.9 158.0 212.9C163.6 212.9 164.9 212.8 169.8 212.9C174.7 213.0 182.2 213.3 187.4 213.3C192.7 213.3 198.4 213.3 201.2 212.9C203.9 212.5 202.6 211.5 204.1 210.9C205.6 210.4 207.9 209.8 210.0 209.8C212.1 209.8 215.2 210.5 216.8 210.9C218.5 211.4 216.5 212.2 219.8 212.5C223.1 212.8 230.4 212.8 236.5 212.9C242.5 213.0 252.8 213.2 256.1 213.3L256.1 221.0L58.0 221.0Z" fill="#e3202a"/>
<ellipse cx="85.5" cy="215.9" rx="7" ry="1.6" fill="#f7e11a"/>
<ellipse cx="85.5" cy="215.9" rx="12" ry="2.6" fill="#f0641e" opacity="0.6"/>
<ellipse cx="126.7" cy="215.9" rx="6" ry="1.5" fill="#f7e11a"/>
<ellipse cx="126.7" cy="215.9" rx="11" ry="2.5" fill="#f0641e" opacity="0.6"/>
<ellipse cx="107.0" cy="214.1" rx="22" ry="1.8" fill="#f0641e" opacity="0.7"/>
<ellipse cx="210.0" cy="210.6" rx="5" ry="1.2" fill="#f0a020"/>
</g>
</g>
</g>
<rect x="61.55" y="199.35" width="195.00" height="20.90" fill="none" stroke="#2bb34b" stroke-width="2.1"/>
<g clip-path="url(#c14)">
<rect x="300.5" y="154.3" width="197.50" height="21.20" fill="#fff"/>
<g>
<g filter="url(#b05)">
<path d="M298.0 173.4C300.9 173.3 311.4 173.4 315.7 173.2C319.9 172.9 319.9 172.1 323.5 171.8C327.1 171.6 334.0 171.4 337.2 171.6C340.5 171.8 340.8 172.9 343.1 173.0C345.4 173.1 348.3 172.6 351.0 172.4C353.6 172.2 354.6 171.9 358.8 171.8C363.1 171.7 370.9 172.0 376.5 172.0C382.0 172.0 388.6 171.7 392.2 171.8C395.8 171.9 395.8 172.5 398.0 172.6C400.3 172.7 402.6 172.5 405.8 172.4C409.1 172.3 414.7 171.9 417.6 172.0C420.6 172.1 420.9 172.8 423.5 172.8C426.1 172.8 430.0 172.2 433.3 172.2C436.6 172.2 439.2 172.8 443.1 172.8C447.0 172.8 452.6 172.2 456.8 172.2C461.1 172.2 464.7 172.9 468.6 172.8C472.5 172.7 475.8 171.7 480.4 171.4C485.0 171.2 493.5 171.3 496.1 171.2L496.1 175.5L298.0 175.5Z" fill="#e3202a"/>
</g>
</g>
</g>
<rect x="301.55" y="155.35" width="195.40" height="19.10" fill="none" stroke="#be1e2d" stroke-width="2.1"/>
<g clip-path="url(#c15)">
<rect x="300.5" y="177.6" width="197.50" height="23.20" fill="#fff"/>
<g>
<g filter="url(#b05)">
<path d="M298.0 194.0C299.3 193.8 302.6 193.3 305.8 192.8C309.1 192.3 312.4 191.7 317.6 191.2C322.8 190.8 329.1 190.4 337.2 190.1C345.4 189.7 358.5 189.0 366.7 188.9C374.8 188.7 381.0 189.1 386.3 189.3C391.5 189.4 395.4 189.5 398.0 189.7C400.6 189.8 400.5 189.7 401.9 190.1C403.4 190.4 405.2 191.2 406.8 192.0C408.5 192.8 410.3 194.0 411.7 194.8C413.2 195.5 415.0 196.1 415.7 196.3L415.7 200.8L298.0 200.8Z" fill="url(#gG2)"/>
<path d="M298.0 196.7C301.3 196.7 307.8 196.5 317.6 196.3C327.4 196.2 343.4 196.0 356.8 195.9C370.3 195.9 389.2 196.0 398.0 195.9C406.9 195.9 403.2 195.8 409.8 195.7C416.3 195.7 429.4 195.6 437.2 195.5C445.1 195.5 452.9 195.8 456.8 195.5C460.8 195.3 459.5 194.3 460.8 194.0C462.1 193.7 463.6 193.5 464.7 193.8C465.7 194.1 463.8 195.4 467.0 195.9C470.3 196.5 479.5 196.7 484.3 196.9C489.1 197.2 494.1 197.4 496.1 197.5L496.1 200.8L298.0 200.8Z" fill="#e3202a"/>
<ellipse cx="315.7" cy="195.5" rx="10" ry="2" fill="#fff" opacity="0.75"/>
</g>
</g>
</g>
<rect x="301.55" y="178.65" width="195.40" height="21.10" fill="none" stroke="#2bb34b" stroke-width="2.1"/>
<g clip-path="url(#c16)">
<rect x="64" y="473" width="196.00" height="22.00" fill="#fff"/>
<g>
<g filter="url(#b05)">
<path d="M62.0 493.2C63.0 493.1 65.3 492.8 67.9 492.6C70.5 492.3 73.8 491.8 77.7 491.8C81.6 491.8 86.5 492.2 91.4 492.4C96.3 492.6 102.5 492.9 107.1 493.0C111.7 493.0 115.0 492.7 118.9 492.6C122.8 492.4 126.1 492.2 130.7 492.2C135.2 492.2 141.0 492.5 146.3 492.6C151.7 492.6 159.4 492.5 163.0 492.6C166.6 492.6 166.1 493.0 167.8 493.0C169.6 493.0 171.8 492.5 173.7 492.6C175.7 492.6 176.3 493.1 179.6 493.2C182.9 493.3 190.4 493.3 193.3 493.2C196.3 493.1 195.8 492.6 197.3 492.6C198.7 492.6 200.5 492.9 202.2 493.2C203.8 493.4 197.8 493.8 207.1 494.0C216.4 494.1 249.6 494.0 258.1 494.0L258.1 495.0L62.0 495.0Z" fill="#8c1519"/>
</g>
</g>
</g>
<rect x="65.05" y="474.05" width="193.90" height="19.90" fill="none" stroke="#be1e2d" stroke-width="2.1"/>
<g clip-path="url(#c17)">
<rect x="64" y="497.2" width="196.00" height="22.80" fill="#fff"/>
<g>
<g filter="url(#b05)">
<path d="M82.2 513.0C83.7 512.8 88.3 512.3 91.4 512.0C94.6 511.7 96.3 511.3 101.2 511.2C106.1 511.1 114.3 511.3 120.8 511.4C127.4 511.5 133.4 511.9 140.5 512.0C147.5 512.1 159.1 512.1 163.0 512.2C166.9 512.3 162.8 512.3 163.9 512.4C165.1 512.5 168.1 512.7 169.8 513.0C171.5 513.3 173.4 514.0 174.1 514.2L174.1 514.4C173.4 514.5 171.5 515.1 169.8 515.3C168.1 515.6 165.1 515.6 163.9 515.7C162.8 515.9 166.9 516.1 163.0 516.1C159.1 516.2 147.5 516.2 140.5 516.1C133.4 516.1 127.4 515.9 120.8 515.7C114.3 515.5 106.1 515.2 101.2 514.9C96.3 514.6 94.6 514.3 91.4 514.0C88.3 513.7 83.7 513.3 82.2 513.2Z" fill="#6d8c28"/>
<path d="M62.0 517.3C64.0 517.2 70.5 517.0 73.8 516.9C77.0 516.8 77.0 517.0 81.6 516.7C86.2 516.4 94.7 515.7 101.2 515.3C107.8 515.0 114.3 514.7 120.8 514.5C127.4 514.4 133.4 514.5 140.5 514.5C147.5 514.6 158.8 514.8 163.0 514.9C167.3 515.1 164.1 515.1 165.9 515.3C167.7 515.6 169.8 516.3 173.7 516.5C177.7 516.7 183.5 516.6 189.4 516.7C195.3 516.8 202.5 516.9 209.0 516.9C215.6 516.9 222.8 516.7 228.7 516.5C234.5 516.3 239.4 516.1 244.3 515.9C249.3 515.8 255.8 515.8 258.1 515.7L258.1 520.0L62.0 520.0Z" fill="url(#gL2)"/>
<ellipse cx="111.0" cy="513.2" rx="8.5" ry="1.6" fill="#f7e11a"/>
<ellipse cx="144.4" cy="513.4" rx="10" ry="1.2" fill="#c8c828" opacity="0.8"/>
<ellipse cx="250.2" cy="516.3" rx="6" ry="1" fill="#f0b020"/>
</g>
</g>
</g>
<rect x="65.05" y="498.25" width="193.90" height="20.70" fill="none" stroke="#1b5a9b" stroke-width="2.1"/>
<g clip-path="url(#c18)">
<rect x="64" y="522.5" width="196.00" height="22.50" fill="#fff"/>
<g>
<g filter="url(#b05)">
<path d="M62.0 532.2C63.3 532.0 66.6 531.3 69.8 531.0C73.1 530.7 77.4 530.3 81.6 530.4C85.9 530.6 91.1 531.8 95.3 531.8C99.6 531.8 102.9 530.4 107.1 530.2C111.4 530.1 115.9 531.1 120.8 531.0C125.8 531.0 131.6 529.8 136.5 529.8C141.4 529.9 145.9 531.3 150.3 531.4C154.7 531.5 159.4 530.8 163.0 530.6C166.6 530.5 168.0 530.8 171.8 530.6C175.5 530.5 180.9 529.8 185.5 529.8C190.1 529.9 194.7 530.9 199.2 531.0C203.8 531.2 209.0 530.6 213.0 530.8C216.9 531.0 220.2 531.6 222.8 532.2C225.4 532.8 227.3 533.4 228.7 534.2C230.0 534.9 230.6 536.1 231.0 536.5L231.0 536.9C230.3 537.4 228.7 538.8 226.7 539.7C224.7 540.5 221.8 541.4 218.8 542.0C215.9 542.6 218.3 542.9 209.0 543.2C199.7 543.4 187.5 543.5 163.0 543.6C138.5 543.6 78.8 543.6 62.0 543.6Z" fill="url(#gL3)"/>
<ellipse cx="99.3" cy="538.9" rx="6" ry="1.5" fill="#fff"/>
<ellipse cx="146.3" cy="536.9" rx="6" ry="2" fill="#fff"/>
<ellipse cx="73.8" cy="540.8" rx="5" ry="1.2" fill="#fff" opacity="0.8"/>
<ellipse cx="181.6" cy="533.8" rx="5" ry="1.6" fill="#fff"/>
<ellipse cx="165.9" cy="538.9" rx="4" ry="1.2" fill="#fff" opacity="0.8"/>
<ellipse cx="126.7" cy="534.2" rx="14" ry="2" fill="#8cd060" opacity="0.7"/>
<ellipse cx="81.6" cy="533.8" rx="12" ry="2" fill="#8cd060" opacity="0.7"/>
<ellipse cx="199.2" cy="535.7" rx="8" ry="1.5" fill="#d8c830" opacity="0.7"/>
<ellipse cx="242.4" cy="540.8" rx="8" ry="0.8" fill="#f0a0a0" opacity="0.7"/>
</g>
</g>
</g>
<rect x="65.05" y="523.55" width="193.90" height="20.40" fill="none" stroke="#2bb34b" stroke-width="2.1"/>
<g clip-path="url(#c19)">
<rect x="301.2" y="485.8" width="196.80" height="22.20" fill="#fff"/>
<g>
<g filter="url(#b05)">
<path d="M299.0 502.6C301.0 502.5 306.8 502.1 310.8 502.0C314.7 502.0 319.3 502.5 322.5 502.4C325.8 502.4 327.8 501.8 330.4 501.8C333.0 501.9 333.7 502.6 338.2 502.6C342.8 502.7 351.3 502.4 357.8 502.2C364.4 502.1 370.4 501.9 377.5 501.8C384.5 501.8 394.6 502.0 400.0 502.0C405.4 502.0 405.2 501.8 409.8 501.8C414.3 501.8 421.2 502.1 427.4 502.0C433.6 502.0 441.2 501.6 447.0 501.6C452.9 501.6 459.6 501.8 462.7 502.0C465.8 502.3 462.7 502.9 465.7 503.2C468.6 503.5 475.3 503.6 480.4 503.6C485.5 503.6 493.5 503.4 496.1 503.4L496.1 508.0L299.0 508.0Z" fill="url(#gQ1)"/>
<ellipse cx="375.5" cy="503.2" rx="9" ry="1" fill="#f7e11a" opacity="0.9"/>
<ellipse cx="427.4" cy="503.0" rx="14" ry="0.9" fill="#f5c020" opacity="0.8"/>
</g>
</g>
</g>
<rect x="302.25" y="486.85" width="194.70" height="20.10" fill="none" stroke="#be1e2d" stroke-width="2.1"/>
<g clip-path="url(#c20)">
<rect x="301.2" y="510.5" width="196.80" height="22.10" fill="#fff"/>
<g>
<g filter="url(#b05)">
<rect x="301.2" y="510.5" width="196.8" height="22.1" fill="url(#gQ2)"/>
<ellipse cx="315.7" cy="519.5" rx="14" ry="2.6" fill="#fff"/>
<ellipse cx="304.9" cy="519.1" rx="6" ry="2.2" fill="#fff"/>
<ellipse cx="381.4" cy="525.0" rx="10" ry="1.8" fill="#f7e11a"/>
<ellipse cx="338.2" cy="525.8" rx="14" ry="1.5" fill="#e8e030" opacity="0.7"/>
<path d="M385.3 510.5C387.9 510.5 395.6 510.5 401.0 510.5C406.4 510.5 401.8 510.5 417.6 510.5C433.5 510.5 483.0 510.5 496.1 510.5L496.1 523.4C493.5 523.3 485.9 523.0 480.4 523.0C474.8 523.0 468.0 523.5 462.7 523.4C457.5 523.3 453.3 523.1 449.0 522.6C444.8 522.2 441.8 521.1 437.2 520.7C432.7 520.3 426.1 520.5 421.5 520.3C417.0 520.1 413.2 519.9 409.8 519.5C406.3 519.1 403.1 518.2 400.9 517.9C398.8 517.7 398.7 518.1 397.1 517.9C395.5 517.7 393.2 517.3 391.2 516.7C389.2 516.2 386.3 514.8 385.3 514.4Z" fill="#fff"/>
<rect x="425.5" y="511.8" width="22" height="1" fill="#1f7a3a"/>
<rect x="476.5" y="511.8" width="18" height="1.2" fill="#1f7a3a"/>
<rect x="302.9" y="529.3" width="36" height="1.2" fill="#4a1a10"/>
</g>
</g>
</g>
<rect x="302.25" y="511.55" width="194.70" height="20.00" fill="none" stroke="#2bb34b" stroke-width="2.1"/>
<text x="79.50" y="43.20" font-size="7.4" text-anchor="middle">3% γ<tspan dx="1.1">′</tspan></text>
<text x="157.50" y="43.20" font-size="7.4" text-anchor="middle">10% γ<tspan dx="1.1">′</tspan></text>
<text x="236.30" y="43.20" font-size="7.4" text-anchor="middle">30% γ<tspan dx="1.1">′</tspan></text>
<text x="360.40" y="43.20" font-size="7.4" text-anchor="middle">Low γ<tspan dx="1.1">′</tspan></text>
<text x="438.80" y="43.20" font-size="7.4" text-anchor="middle">High γ<tspan dx="1.1">′</tspan></text>
<text x="79.40" y="369.40" font-size="7.4" text-anchor="middle">3% γ<tspan dx="1.1">′</tspan></text>
<text x="159.00" y="369.40" font-size="7.4" text-anchor="middle">10% γ<tspan dx="1.1">′</tspan></text>
<text x="237.00" y="369.40" font-size="7.4" text-anchor="middle">30% γ<tspan dx="1.1">′</tspan></text>
<text x="361.20" y="369.40" font-size="7.4" text-anchor="middle">Low γ<tspan dx="1.1">′</tspan></text>
<text x="439.80" y="369.40" font-size="7.4" text-anchor="middle">High γ<tspan dx="1.1">′</tspan></text>
<text x="253.30" y="163.60" font-size="7.4" text-anchor="end">3% γ<tspan dx="1.1">′</tspan></text>
<text x="253.30" y="188.20" font-size="7.4" text-anchor="end">10% γ<tspan dx="1.1">′</tspan></text>
<text x="253.30" y="212.60" font-size="7.4" text-anchor="end">30% γ<tspan dx="1.1">′</tspan></text>
<text x="492.60" y="167.40" font-size="7.4" text-anchor="end">Low γ<tspan dx="1.1">′</tspan></text>
<text x="492.60" y="191.40" font-size="7.4" text-anchor="end">High γ<tspan dx="1.1">′</tspan></text>
<text x="255.40" y="484.60" font-size="7.4" text-anchor="end">3% γ<tspan dx="1.1">′</tspan></text>
<text x="255.40" y="508.20" font-size="7.4" text-anchor="end">10% γ<tspan dx="1.1">′</tspan></text>
<text x="255.40" y="533.20" font-size="7.4" text-anchor="end">30% γ<tspan dx="1.1">′</tspan></text>
<text x="493.00" y="496.80" font-size="7.4" text-anchor="end">Low γ<tspan dx="1.1">′</tspan></text>
<text x="493.00" y="521.40" font-size="7.4" text-anchor="end">High γ<tspan dx="1.1">′</tspan></text>
<circle cx="68.0" cy="242.5" r="1.80" fill="#c8102e"/>
<text x="74.60" y="245.20" font-size="7.4">3% γ<tspan dx="1.1">′</tspan></text>
<rect x="98.2" y="240.7" width="3.6" height="3.6" fill="#1b5a9b"/>
<text x="106.80" y="245.20" font-size="7.4">10% γ<tspan dx="1.1">′</tspan></text>
<path d="M135.3 240.8L137.1 244.0L133.5 244.0Z" fill="#22b14c"/>
<text x="141.90" y="245.20" font-size="7.4">30% γ<tspan dx="1.1">′</tspan></text>
<path d="M63.20 264.35L63.20 325.05" stroke="#231f20" stroke-width="0.95" stroke-linecap="butt" fill="none"/>
<path d="M62.75 324.60L104.20 324.60" stroke="#231f20" stroke-width="0.95" stroke-linecap="butt" fill="none"/>
<path d="M60.90 264.90L63.20 264.90" stroke="#231f20" stroke-width="0.9" stroke-linecap="butt" fill="none"/>
<text x="59.30" y="267.69" font-size="7.8" text-anchor="end">1.5</text>
<path d="M60.90 284.80L63.20 284.80" stroke="#231f20" stroke-width="0.9" stroke-linecap="butt" fill="none"/>
<text x="59.30" y="287.59" font-size="7.8" text-anchor="end">1.0</text>
<path d="M60.90 304.70L63.20 304.70" stroke="#231f20" stroke-width="0.9" stroke-linecap="butt" fill="none"/>
<text x="59.30" y="307.49" font-size="7.8" text-anchor="end">0.5</text>
<path d="M60.90 324.60L63.20 324.60" stroke="#231f20" stroke-width="0.9" stroke-linecap="butt" fill="none"/>
<text x="59.30" y="327.39" font-size="7.8" text-anchor="end">0.0</text>
<path d="M72.00 324.60L72.00 326.90" stroke="#231f20" stroke-width="0.9" stroke-linecap="butt" fill="none"/>
<path d="M84.00 324.60L84.00 326.90" stroke="#231f20" stroke-width="0.9" stroke-linecap="butt" fill="none"/>
<path d="M96.00 324.60L96.00 326.90" stroke="#231f20" stroke-width="0.9" stroke-linecap="butt" fill="none"/>
<text x="44.40" y="294.00" font-size="7.2" text-anchor="middle" textLength="63.50" lengthAdjust="spacingAndGlyphs" transform="rotate(-90 44.40 294.00)">Fibrin volume (μm<tspan dy="-2.4" font-size="4.6">3</tspan><tspan dy="2.4" font-size="4.6"> </tspan> × 10<tspan dy="-2.4" font-size="4.6">6</tspan><tspan dy="2.4" font-size="4.6"> </tspan>)</text>
<path d="M73.00 273.80L97.00 273.80" stroke="#231f20" stroke-width="1.1" stroke-linecap="butt" fill="none"/>
<text x="84.00" y="274.60" font-size="8.0" text-anchor="middle" font-weight="bold" textLength="4.90" lengthAdjust="spacingAndGlyphs">**</text>
<path d="M84.50 280.00L97.00 280.00" stroke="#231f20" stroke-width="1.1" stroke-linecap="butt" fill="none"/>
<circle cx="71.3" cy="301.3" r="1.90" fill="#c8102e"/>
<circle cx="70.0" cy="310.0" r="1.90" fill="#c8102e"/>
<circle cx="73.0" cy="311.3" r="1.90" fill="#c8102e"/>
<path d="M67.75 307.50L76.25 307.50" stroke="#111" stroke-width="0.9" stroke-linecap="butt" fill="none"/>
<path d="M72.00 301.00L72.00 313.20" stroke="#111" stroke-width="0.9" stroke-linecap="butt" fill="none"/>
<path d="M69.80 301.00L74.20 301.00" stroke="#111" stroke-width="0.9" stroke-linecap="butt" fill="none"/>
<path d="M69.80 313.20L74.20 313.20" stroke="#111" stroke-width="0.9" stroke-linecap="butt" fill="none"/>
<rect x="82.0" y="291.1" width="3.9" height="3.9" fill="#1b5a9b"/>
<rect x="80.0" y="303.1" width="3.9" height="3.9" fill="#1b5a9b"/>
<rect x="83.2" y="304.2" width="3.9" height="3.9" fill="#1b5a9b"/>
<rect x="81.0" y="306.2" width="3.9" height="3.9" fill="#1b5a9b"/>
<path d="M79.75 303.80L88.25 303.80" stroke="#111" stroke-width="0.9" stroke-linecap="butt" fill="none"/>
<path d="M84.00 297.50L84.00 310.00" stroke="#111" stroke-width="0.9" stroke-linecap="butt" fill="none"/>
<path d="M81.80 297.50L86.20 297.50" stroke="#111" stroke-width="0.9" stroke-linecap="butt" fill="none"/>
<path d="M81.80 310.00L86.20 310.00" stroke="#111" stroke-width="0.9" stroke-linecap="butt" fill="none"/>
<path d="M95.8 283.4L97.7 286.9L93.9 286.9Z" fill="#22b14c"/>
<path d="M94.4 285.9L96.3 289.4L92.5 289.4Z" fill="#22b14c"/>
<path d="M96.3 297.9L98.2 301.4L94.4 301.4Z" fill="#22b14c"/>
<path d="M91.75 290.80L100.25 290.80" stroke="#111" stroke-width="0.9" stroke-linecap="butt" fill="none"/>
<path d="M96.00 282.50L96.00 300.50" stroke="#111" stroke-width="0.9" stroke-linecap="butt" fill="none"/>
<path d="M93.80 282.50L98.20 282.50" stroke="#111" stroke-width="0.9" stroke-linecap="butt" fill="none"/>
<path d="M93.80 300.50L98.20 300.50" stroke="#111" stroke-width="0.9" stroke-linecap="butt" fill="none"/>
<path d="M135.30 262.25L135.30 325.45" stroke="#231f20" stroke-width="0.95" stroke-linecap="butt" fill="none"/>
<path d="M134.85 325.00L176.00 325.00" stroke="#231f20" stroke-width="0.95" stroke-linecap="butt" fill="none"/>
<path d="M133.00 262.70L135.30 262.70" stroke="#231f20" stroke-width="0.9" stroke-linecap="butt" fill="none"/>
<text x="131.40" y="265.49" font-size="7.8" text-anchor="end">50</text>
<path d="M133.00 275.16L135.30 275.16" stroke="#231f20" stroke-width="0.9" stroke-linecap="butt" fill="none"/>
<text x="131.40" y="277.95" font-size="7.8" text-anchor="end">40</text>
<path d="M133.00 287.62L135.30 287.62" stroke="#231f20" stroke-width="0.9" stroke-linecap="butt" fill="none"/>
<text x="131.40" y="290.41" font-size="7.8" text-anchor="end">30</text>
<path d="M133.00 300.08L135.30 300.08" stroke="#231f20" stroke-width="0.9" stroke-linecap="butt" fill="none"/>
<text x="131.40" y="302.87" font-size="7.8" text-anchor="end">20</text>
<path d="M133.00 312.54L135.30 312.54" stroke="#231f20" stroke-width="0.9" stroke-linecap="butt" fill="none"/>
<text x="131.40" y="315.33" font-size="7.8" text-anchor="end">10</text>
<path d="M133.00 325.00L135.30 325.00" stroke="#231f20" stroke-width="0.9" stroke-linecap="butt" fill="none"/>
<text x="131.40" y="327.79" font-size="7.8" text-anchor="end">0</text>
<path d="M143.40 325.00L143.40 327.30" stroke="#231f20" stroke-width="0.9" stroke-linecap="butt" fill="none"/>
<path d="M155.70 325.00L155.70 327.30" stroke="#231f20" stroke-width="0.9" stroke-linecap="butt" fill="none"/>
<path d="M168.20 325.00L168.20 327.30" stroke="#231f20" stroke-width="0.9" stroke-linecap="butt" fill="none"/>
<text x="116.00" y="294.00" font-size="7.2" text-anchor="middle" textLength="56.50" lengthAdjust="spacingAndGlyphs" transform="rotate(-90 116.00 294.00)">Max height of clot (μm)</text>
<path d="M144.50 287.00L168.20 287.00" stroke="#231f20" stroke-width="1.1" stroke-linecap="butt" fill="none"/>
<text x="156.40" y="288.20" font-size="8.0" text-anchor="middle" font-weight="bold" textLength="4.90" lengthAdjust="spacingAndGlyphs">**</text>
<path d="M155.50 292.20L168.20 292.20" stroke="#231f20" stroke-width="1.1" stroke-linecap="butt" fill="none"/>
<text x="163.60" y="293.40" font-size="8.0" text-anchor="middle" font-weight="bold" textLength="4.90" lengthAdjust="spacingAndGlyphs">**</text>
<circle cx="141.6" cy="312.6" r="1.75" fill="#c8102e"/>
<circle cx="143.6" cy="313.6" r="1.75" fill="#c8102e"/>
<circle cx="145.4" cy="314.6" r="1.75" fill="#c8102e"/>
<circle cx="144.4" cy="312.4" r="1.75" fill="#c8102e"/>
<path d="M139.30 313.80L147.50 313.80" stroke="#111" stroke-width="0.9" stroke-linecap="butt" fill="none"/>
<path d="M143.40 312.60L143.40 315.00" stroke="#111" stroke-width="0.9" stroke-linecap="butt" fill="none"/>
<path d="M141.20 312.60L145.60 312.60" stroke="#111" stroke-width="0.9" stroke-linecap="butt" fill="none"/>
<path d="M141.20 315.00L145.60 315.00" stroke="#111" stroke-width="0.9" stroke-linecap="butt" fill="none"/>
<rect x="154.5" y="307.1" width="3.9" height="3.9" fill="#1b5a9b"/>
<rect x="153.1" y="309.6" width="3.9" height="3.9" fill="#1b5a9b"/>
<rect x="155.7" y="310.6" width="3.9" height="3.9" fill="#1b5a9b"/>
<rect x="152.7" y="313.6" width="3.9" height="3.9" fill="#1b5a9b"/>
<rect x="155.1" y="312.7" width="3.9" height="3.9" fill="#1b5a9b"/>
<path d="M151.90 312.00L160.10 312.00" stroke="#111" stroke-width="0.9" stroke-linecap="butt" fill="none"/>
<path d="M156.00 308.80L156.00 315.20" stroke="#111" stroke-width="0.9" stroke-linecap="butt" fill="none"/>
<path d="M153.80 308.80L158.20 308.80" stroke="#111" stroke-width="0.9" stroke-linecap="butt" fill="none"/>
<path d="M153.80 315.20L158.20 315.20" stroke="#111" stroke-width="0.9" stroke-linecap="butt" fill="none"/>
<path d="M168.4 294.5L170.3 298.0L166.5 298.0Z" fill="#22b14c"/>
<path d="M168.0 298.9L169.9 302.4L166.1 302.4Z" fill="#22b14c"/>
<path d="M166.2 303.4L168.1 306.9L164.3 306.9Z" fill="#22b14c"/>
<path d="M170.2 303.4L172.1 306.9L168.3 306.9Z" fill="#22b14c"/>
<path d="M168.8 307.9L170.7 311.4L166.9 311.4Z" fill="#22b14c"/>
<path d="M164.30 303.70L172.50 303.70" stroke="#111" stroke-width="0.9" stroke-linecap="butt" fill="none"/>
<path d="M168.40 297.70L168.40 309.80" stroke="#111" stroke-width="0.9" stroke-linecap="butt" fill="none"/>
<path d="M166.20 297.70L170.60 297.70" stroke="#111" stroke-width="0.9" stroke-linecap="butt" fill="none"/>
<path d="M166.20 309.80L170.60 309.80" stroke="#111" stroke-width="0.9" stroke-linecap="butt" fill="none"/>
<path d="M212.30 250.05L212.30 312.95" stroke="#231f20" stroke-width="0.95" stroke-linecap="butt" fill="none"/>
<path d="M211.85 312.50L253.60 312.50" stroke="#231f20" stroke-width="0.95" stroke-linecap="butt" fill="none"/>
<path d="M210.00 250.70L212.30 250.70" stroke="#231f20" stroke-width="0.9" stroke-linecap="butt" fill="none"/>
<text x="208.60" y="253.56" font-size="8.0" text-anchor="end">50</text>
<path d="M210.00 263.06L212.30 263.06" stroke="#231f20" stroke-width="0.9" stroke-linecap="butt" fill="none"/>
<text x="208.60" y="265.92" font-size="8.0" text-anchor="end">40</text>
<path d="M210.00 275.42L212.30 275.42" stroke="#231f20" stroke-width="0.9" stroke-linecap="butt" fill="none"/>
<text x="208.60" y="278.28" font-size="8.0" text-anchor="end">30</text>
<path d="M210.00 287.78L212.30 287.78" stroke="#231f20" stroke-width="0.9" stroke-linecap="butt" fill="none"/>
<text x="208.60" y="290.64" font-size="8.0" text-anchor="end">20</text>
<path d="M210.00 300.14L212.30 300.14" stroke="#231f20" stroke-width="0.9" stroke-linecap="butt" fill="none"/>
<text x="208.60" y="303.00" font-size="8.0" text-anchor="end">10</text>
<path d="M210.00 312.50L212.30 312.50" stroke="#231f20" stroke-width="0.9" stroke-linecap="butt" fill="none"/>
<text x="208.60" y="315.36" font-size="8.0" text-anchor="end">0</text>
<path d="M222.30 312.50L222.30 314.80" stroke="#231f20" stroke-width="0.9" stroke-linecap="butt" fill="none"/>
<path d="M232.50 312.50L232.50 314.80" stroke="#231f20" stroke-width="0.9" stroke-linecap="butt" fill="none"/>
<path d="M243.00 312.50L243.00 314.80" stroke="#231f20" stroke-width="0.9" stroke-linecap="butt" fill="none"/>
<path d="M253.30 312.50L253.30 314.80" stroke="#231f20" stroke-width="0.9" stroke-linecap="butt" fill="none"/>
<text x="185.60" y="279.00" font-size="7.2" text-anchor="middle" textLength="44.00" lengthAdjust="spacingAndGlyphs" transform="rotate(-90 185.60 279.00)">Distance from slide</text>
<text x="195.40" y="279.00" font-size="7.2" text-anchor="middle" textLength="28.50" lengthAdjust="spacingAndGlyphs" transform="rotate(-90 195.40 279.00)">surface (μm)</text>
<text x="222.30" y="324.70" font-size="8.0" text-anchor="middle">10</text>
<text x="232.60" y="324.70" font-size="8.0" text-anchor="middle">0</text>
<text x="242.90" y="324.70" font-size="8.0" text-anchor="middle">10</text>
<text x="232.60" y="333.00" font-size="7.2" text-anchor="middle" textLength="37.50" lengthAdjust="spacingAndGlyphs">Fibrin area/slice</text>
<text x="232.60" y="341.60" font-size="7.2" text-anchor="middle" textLength="30.00" lengthAdjust="spacingAndGlyphs">(μm<tspan dy="-2.4" font-size="4.6">2</tspan><tspan dy="2.4" font-size="4.6"> </tspan> × 10<tspan dy="-2.4" font-size="4.6">3</tspan><tspan dy="2.4" font-size="4.6"> </tspan>)</text>
<path d="M212.1 312.5L212.6 310.0L214.6 306.3L216.6 300.1L221.6 295.2L224.6 291.5L226.6 289.0L228.1 285.3L232.6 281.0L232.6 281.0L237.1 285.3L238.6 289.0L240.6 291.5L243.6 295.2L248.6 300.1L250.6 306.3L252.6 310.0L253.1 312.5Z" fill="#b4e2bd" opacity="0.6"/>
<path d="M214.1 312.5L214.6 310.6L216.4 306.3L218.2 301.4L220.6 297.7L224.6 294.0L227.0 292.7L227.4 290.9L228.0 289.0L229.2 287.8L229.6 285.9L231.0 284.7L232.6 282.2L232.6 282.2L234.2 284.7L235.6 285.9L236.0 287.8L237.2 289.0L237.8 290.9L238.2 292.7L240.6 294.0L244.6 297.7L247.0 301.4L248.8 306.3L250.6 310.6L251.1 312.5Z" fill="#fff"/>
<path d="M214.1 312.5L214.6 310.6L216.4 306.3L218.2 301.4L220.6 297.7L224.6 294.0L227.0 292.7L227.4 290.9L228.0 289.0L229.2 287.8L229.6 285.9L231.0 284.7L232.6 282.2L232.6 282.2L234.2 284.7L235.6 285.9L236.0 287.8L237.2 289.0L237.8 290.9L238.2 292.7L240.6 294.0L244.6 297.7L247.0 301.4L248.8 306.3L250.6 310.6L251.1 312.5" fill="none" stroke="#b4e2bd" stroke-width="3.6" stroke-linejoin="round" opacity="0.75"/>
<path d="M214.1 312.5L214.6 310.6L216.4 306.3L218.2 301.4L220.6 297.7L224.6 294.0L227.0 292.7L227.4 290.9L228.0 289.0L229.2 287.8L229.6 285.9L231.0 284.7L232.6 282.2L232.6 282.2L234.2 284.7L235.6 285.9L236.0 287.8L237.2 289.0L237.8 290.9L238.2 292.7L240.6 294.0L244.6 297.7L247.0 301.4L248.8 306.3L250.6 310.6L251.1 312.5" fill="none" stroke="#2eb34a" stroke-width="1.1" stroke-linejoin="round"/>
<path d="M212.6 312.5L213.1 310.0L215.1 306.3L221.6 301.4L226.6 297.7L232.6 294.6L232.6 294.6L238.6 297.7L243.6 301.4L250.1 306.3L252.1 310.0L252.6 312.5Z" fill="#b5cde9" opacity="0.6"/>
<path d="M214.8 312.5L215.4 310.6L217.6 307.6L219.2 305.1L223.1 302.6L225.6 301.4L227.0 300.1L228.2 298.9L230.4 297.7L232.6 295.9L232.6 295.9L234.8 297.7L237.0 298.9L238.2 300.1L239.6 301.4L242.1 302.6L246.0 305.1L247.6 307.6L249.8 310.6L250.4 312.5Z" fill="#fff"/>
<path d="M214.8 312.5L215.4 310.6L217.6 307.6L219.2 305.1L223.1 302.6L225.6 301.4L227.0 300.1L228.2 298.9L230.4 297.7L232.6 295.9L232.6 295.9L234.8 297.7L237.0 298.9L238.2 300.1L239.6 301.4L242.1 302.6L246.0 305.1L247.6 307.6L249.8 310.6L250.4 312.5" fill="none" stroke="#b5cde9" stroke-width="3.6" stroke-linejoin="round" opacity="0.75"/>
<path d="M214.8 312.5L215.4 310.6L217.6 307.6L219.2 305.1L223.1 302.6L225.6 301.4L227.0 300.1L228.2 298.9L230.4 297.7L232.6 295.9L232.6 295.9L234.8 297.7L237.0 298.9L238.2 300.1L239.6 301.4L242.1 302.6L246.0 305.1L247.6 307.6L249.8 310.6L250.4 312.5" fill="none" stroke="#2065b0" stroke-width="1.1" stroke-linejoin="round"/>
<path d="M214.2 312.5L215.0 310.0L219.6 306.3L226.1 302.6L232.6 298.3L232.6 298.3L239.1 302.6L245.6 306.3L250.2 310.0L251.0 312.5Z" fill="#f4b6be" opacity="0.6"/>
<path d="M216.2 312.5L216.6 310.6L218.2 308.8L221.6 306.3L226.0 303.8L229.0 302.0L232.6 300.1L232.6 300.1L236.2 302.0L239.2 303.8L243.6 306.3L247.0 308.8L248.6 310.6L249.0 312.5Z" fill="#fff"/>
<path d="M216.2 312.5L216.6 310.6L218.2 308.8L221.6 306.3L226.0 303.8L229.0 302.0L232.6 300.1L232.6 300.1L236.2 302.0L239.2 303.8L243.6 306.3L247.0 308.8L248.6 310.6L249.0 312.5" fill="none" stroke="#f4b6be" stroke-width="3.6" stroke-linejoin="round" opacity="0.75"/>
<path d="M216.2 312.5L216.6 310.6L218.2 308.8L221.6 306.3L226.0 303.8L229.0 302.0L232.6 300.1L232.6 300.1L236.2 302.0L239.2 303.8L243.6 306.3L247.0 308.8L248.6 310.6L249.0 312.5" fill="none" stroke="#e0243a" stroke-width="1.1" stroke-linejoin="round"/>
<rect x="216.8" y="248.8" width="6" height="4.6" fill="#f4b6be"/>
<path d="M216.80 251.10L222.80 251.10" stroke="#e0243a" stroke-width="1.1" stroke-linecap="butt" fill="none"/>
<text x="225.40" y="253.90" font-size="8.0">3% γ<tspan dx="1.1">′</tspan></text>
<rect x="216.8" y="257.4" width="6" height="4.6" fill="#b5cde9"/>
<path d="M216.80 259.70L222.80 259.70" stroke="#2065b0" stroke-width="1.1" stroke-linecap="butt" fill="none"/>
<text x="225.40" y="262.50" font-size="8.0">10% γ<tspan dx="1.1">′</tspan></text>
<rect x="216.8" y="266.1" width="6" height="4.6" fill="#b4e2bd"/>
<path d="M216.80 268.40L222.80 268.40" stroke="#2eb34a" stroke-width="1.1" stroke-linecap="butt" fill="none"/>
<text x="225.40" y="271.20" font-size="8.0">30% γ<tspan dx="1.1">′</tspan></text>
<circle cx="332.1" cy="242.4" r="1.90" fill="#c8102e"/>
<text x="339.90" y="245.10" font-size="7.4">Low γ<tspan dx="1.1">′</tspan></text>
<path d="M368.2 240.7L370.0 243.9L366.4 243.9Z" fill="#22b14c"/>
<text x="376.00" y="245.10" font-size="7.4">High γ<tspan dx="1.1">′</tspan></text>
<path d="M315.20 261.45L315.20 324.95" stroke="#231f20" stroke-width="0.95" stroke-linecap="butt" fill="none"/>
<path d="M314.75 324.50L356.30 324.50" stroke="#231f20" stroke-width="0.95" stroke-linecap="butt" fill="none"/>
<path d="M312.90 261.95L315.20 261.95" stroke="#231f20" stroke-width="0.9" stroke-linecap="butt" fill="none"/>
<text x="311.00" y="264.74" font-size="7.8" text-anchor="end">1.5</text>
<path d="M312.90 282.80L315.20 282.80" stroke="#231f20" stroke-width="0.9" stroke-linecap="butt" fill="none"/>
<text x="311.00" y="285.59" font-size="7.8" text-anchor="end">1.0</text>
<path d="M312.90 303.65L315.20 303.65" stroke="#231f20" stroke-width="0.9" stroke-linecap="butt" fill="none"/>
<text x="311.00" y="306.44" font-size="7.8" text-anchor="end">0.5</text>
<path d="M312.90 324.50L315.20 324.50" stroke="#231f20" stroke-width="0.9" stroke-linecap="butt" fill="none"/>
<text x="311.00" y="327.29" font-size="7.8" text-anchor="end">0.0</text>
<path d="M327.40 324.50L327.40 326.80" stroke="#231f20" stroke-width="0.9" stroke-linecap="butt" fill="none"/>
<path d="M345.10 324.50L345.10 326.80" stroke="#231f20" stroke-width="0.9" stroke-linecap="butt" fill="none"/>
<text x="293.40" y="294.00" font-size="7.2" text-anchor="middle" textLength="63.50" lengthAdjust="spacingAndGlyphs" transform="rotate(-90 293.40 294.00)">Fibrin volume (μm<tspan dy="-2.4" font-size="4.6">3</tspan><tspan dy="2.4" font-size="4.6"> </tspan> × 10<tspan dy="-2.4" font-size="4.6">6</tspan><tspan dy="2.4" font-size="4.6"> </tspan>)</text>
<path d="M327.30 294.20L345.60 294.20" stroke="#231f20" stroke-width="1.1" stroke-linecap="butt" fill="none"/>
<text x="336.40" y="294.80" font-size="8.0" text-anchor="middle" font-weight="bold" textLength="4.90" lengthAdjust="spacingAndGlyphs">**</text>
<circle cx="323.5" cy="310.7" r="1.90" fill="#c8102e"/>
<circle cx="327.0" cy="312.4" r="1.90" fill="#c8102e"/>
<circle cx="330.7" cy="311.0" r="1.90" fill="#c8102e"/>
<circle cx="325.2" cy="319.8" r="1.90" fill="#c8102e"/>
<circle cx="329.0" cy="318.5" r="1.90" fill="#c8102e"/>
<path d="M341.1 298.2L343.0 301.7L339.2 301.7Z" fill="#22b14c"/>
<path d="M346.8 301.1L348.7 304.6L344.9 304.6Z" fill="#22b14c"/>
<path d="M341.6 308.2L343.5 311.7L339.7 311.7Z" fill="#22b14c"/>
<path d="M348.5 306.9L350.4 310.4L346.6 310.4Z" fill="#22b14c"/>
<path d="M345.0 307.3L346.9 310.8L343.1 310.8Z" fill="#22b14c"/>
<path d="M339.25 305.50L350.75 305.50" stroke="#111" stroke-width="0.9" stroke-linecap="butt" fill="none"/>
<path d="M345.00 300.60L345.00 310.20" stroke="#111" stroke-width="0.9" stroke-linecap="butt" fill="none"/>
<path d="M342.80 300.60L347.20 300.60" stroke="#111" stroke-width="0.9" stroke-linecap="butt" fill="none"/>
<path d="M342.80 310.20L347.20 310.20" stroke="#111" stroke-width="0.9" stroke-linecap="butt" fill="none"/>
<path d="M386.70 262.25L386.70 325.45" stroke="#231f20" stroke-width="0.95" stroke-linecap="butt" fill="none"/>
<path d="M386.25 325.00L427.50 325.00" stroke="#231f20" stroke-width="0.95" stroke-linecap="butt" fill="none"/>
<path d="M384.40 262.70L386.70 262.70" stroke="#231f20" stroke-width="0.9" stroke-linecap="butt" fill="none"/>
<text x="382.40" y="265.49" font-size="7.8" text-anchor="end">50</text>
<path d="M384.40 275.16L386.70 275.16" stroke="#231f20" stroke-width="0.9" stroke-linecap="butt" fill="none"/>
<text x="382.40" y="277.95" font-size="7.8" text-anchor="end">40</text>
<path d="M384.40 287.62L386.70 287.62" stroke="#231f20" stroke-width="0.9" stroke-linecap="butt" fill="none"/>
<text x="382.40" y="290.41" font-size="7.8" text-anchor="end">30</text>
<path d="M384.40 300.08L386.70 300.08" stroke="#231f20" stroke-width="0.9" stroke-linecap="butt" fill="none"/>
<text x="382.40" y="302.87" font-size="7.8" text-anchor="end">20</text>
<path d="M384.40 312.54L386.70 312.54" stroke="#231f20" stroke-width="0.9" stroke-linecap="butt" fill="none"/>
<text x="382.40" y="315.33" font-size="7.8" text-anchor="end">10</text>
<path d="M384.40 325.00L386.70 325.00" stroke="#231f20" stroke-width="0.9" stroke-linecap="butt" fill="none"/>
<text x="382.40" y="327.79" font-size="7.8" text-anchor="end">0</text>
<path d="M398.50 325.00L398.50 327.30" stroke="#231f20" stroke-width="0.9" stroke-linecap="butt" fill="none"/>
<path d="M416.30 325.00L416.30 327.30" stroke="#231f20" stroke-width="0.9" stroke-linecap="butt" fill="none"/>
<text x="365.80" y="294.00" font-size="7.2" text-anchor="middle" textLength="56.50" lengthAdjust="spacingAndGlyphs" transform="rotate(-90 365.80 294.00)">Max height of clot (μm)</text>
<path d="M398.10 296.80L416.30 296.80" stroke="#231f20" stroke-width="1.1" stroke-linecap="butt" fill="none"/>
<text x="407.00" y="297.60" font-size="8.0" text-anchor="middle" font-weight="bold" textLength="4.90" lengthAdjust="spacingAndGlyphs">**</text>
<circle cx="395.3" cy="311.5" r="1.80" fill="#c8102e"/>
<circle cx="399.3" cy="311.5" r="1.80" fill="#c8102e"/>
<circle cx="402.0" cy="314.0" r="1.80" fill="#c8102e"/>
<circle cx="398.5" cy="318.5" r="1.80" fill="#c8102e"/>
<circle cx="396.6" cy="313.8" r="1.80" fill="#c8102e"/>
<path d="M393.30 313.80L404.30 313.80" stroke="#111" stroke-width="0.9" stroke-linecap="butt" fill="none"/>
<path d="M398.80 311.00L398.80 316.70" stroke="#111" stroke-width="0.9" stroke-linecap="butt" fill="none"/>
<path d="M396.60 311.00L401.00 311.00" stroke="#111" stroke-width="0.9" stroke-linecap="butt" fill="none"/>
<path d="M396.60 316.70L401.00 316.70" stroke="#111" stroke-width="0.9" stroke-linecap="butt" fill="none"/>
<path d="M416.3 300.3L418.2 303.8L414.4 303.8Z" fill="#22b14c"/>
<path d="M412.7 307.9L414.6 311.4L410.8 311.4Z" fill="#22b14c"/>
<path d="M416.6 307.2L418.5 310.7L414.7 310.7Z" fill="#22b14c"/>
<path d="M419.6 307.4L421.5 310.9L417.7 310.9Z" fill="#22b14c"/>
<path d="M410.60 307.60L422.20 307.60" stroke="#111" stroke-width="0.9" stroke-linecap="butt" fill="none"/>
<path d="M416.40 303.70L416.40 310.70" stroke="#111" stroke-width="0.9" stroke-linecap="butt" fill="none"/>
<path d="M414.20 303.70L418.60 303.70" stroke="#111" stroke-width="0.9" stroke-linecap="butt" fill="none"/>
<path d="M414.20 310.70L418.60 310.70" stroke="#111" stroke-width="0.9" stroke-linecap="butt" fill="none"/>
<path d="M463.40 250.05L463.40 312.55" stroke="#231f20" stroke-width="0.95" stroke-linecap="butt" fill="none"/>
<path d="M462.95 312.10L505.70 312.10" stroke="#231f20" stroke-width="0.95" stroke-linecap="butt" fill="none"/>
<path d="M461.10 250.50L463.40 250.50" stroke="#231f20" stroke-width="0.9" stroke-linecap="butt" fill="none"/>
<text x="459.60" y="253.36" font-size="8.0" text-anchor="end">50</text>
<path d="M461.10 262.82L463.40 262.82" stroke="#231f20" stroke-width="0.9" stroke-linecap="butt" fill="none"/>
<text x="459.60" y="265.68" font-size="8.0" text-anchor="end">40</text>
<path d="M461.10 275.14L463.40 275.14" stroke="#231f20" stroke-width="0.9" stroke-linecap="butt" fill="none"/>
<text x="459.60" y="278.00" font-size="8.0" text-anchor="end">30</text>
<path d="M461.10 287.46L463.40 287.46" stroke="#231f20" stroke-width="0.9" stroke-linecap="butt" fill="none"/>
<text x="459.60" y="290.32" font-size="8.0" text-anchor="end">20</text>
<path d="M461.10 299.78L463.40 299.78" stroke="#231f20" stroke-width="0.9" stroke-linecap="butt" fill="none"/>
<text x="459.60" y="302.64" font-size="8.0" text-anchor="end">10</text>
<path d="M461.10 312.10L463.40 312.10" stroke="#231f20" stroke-width="0.9" stroke-linecap="butt" fill="none"/>
<text x="459.60" y="314.96" font-size="8.0" text-anchor="end">0</text>
<path d="M474.60 312.10L474.60 314.40" stroke="#231f20" stroke-width="0.9" stroke-linecap="butt" fill="none"/>
<path d="M484.80 312.10L484.80 314.40" stroke="#231f20" stroke-width="0.9" stroke-linecap="butt" fill="none"/>
<path d="M495.20 312.10L495.20 314.40" stroke="#231f20" stroke-width="0.9" stroke-linecap="butt" fill="none"/>
<path d="M505.40 312.10L505.40 314.40" stroke="#231f20" stroke-width="0.9" stroke-linecap="butt" fill="none"/>
<text x="436.20" y="279.00" font-size="7.2" text-anchor="middle" textLength="44.00" lengthAdjust="spacingAndGlyphs" transform="rotate(-90 436.20 279.00)">Distance from slide</text>
<text x="445.80" y="279.00" font-size="7.2" text-anchor="middle" textLength="28.50" lengthAdjust="spacingAndGlyphs" transform="rotate(-90 445.80 279.00)">surface (μm)</text>
<text x="474.50" y="323.90" font-size="8.0" text-anchor="middle">10</text>
<text x="484.80" y="323.90" font-size="8.0" text-anchor="middle">0</text>
<text x="495.10" y="323.90" font-size="8.0" text-anchor="middle">10</text>
<text x="484.80" y="334.20" font-size="7.2" text-anchor="middle" textLength="37.50" lengthAdjust="spacingAndGlyphs">Fibrin area/slice</text>
<text x="484.80" y="341.90" font-size="7.2" text-anchor="middle" textLength="30.00" lengthAdjust="spacingAndGlyphs">(μm<tspan dy="-2.4" font-size="4.6">2</tspan><tspan dy="2.4" font-size="4.6"> </tspan> × 10<tspan dy="-2.4" font-size="4.6">3</tspan><tspan dy="2.4" font-size="4.6"> </tspan>)</text>
<path d="M470.8 312.1L467.8 310.9L466.8 308.4L469.3 305.9L473.8 302.2L479.8 298.5L482.8 294.9L484.8 282.5L484.8 282.5L486.8 294.9L489.8 298.5L495.8 302.2L500.3 305.9L502.8 308.4L501.8 310.9L498.8 312.1Z" fill="#b4e2bd" opacity="0.6"/>
<path d="M473.8 312.1L472.8 310.9L472.6 308.4L473.8 305.9L475.8 303.5L478.4 301.0L480.8 299.2L482.6 297.3L483.4 294.9L483.8 289.9L484.2 285.0L484.8 283.0L484.8 283.0L485.4 285.0L485.8 289.9L486.2 294.9L487.0 297.3L488.8 299.2L491.2 301.0L493.8 303.5L495.8 305.9L497.0 308.4L496.8 310.9L495.8 312.1Z" fill="#fff"/>
<path d="M473.8 312.1L472.8 310.9L472.6 308.4L473.8 305.9L475.8 303.5L478.4 301.0L480.8 299.2L482.6 297.3L483.4 294.9L483.8 289.9L484.2 285.0L484.8 283.0L484.8 283.0L485.4 285.0L485.8 289.9L486.2 294.9L487.0 297.3L488.8 299.2L491.2 301.0L493.8 303.5L495.8 305.9L497.0 308.4L496.8 310.9L495.8 312.1" fill="none" stroke="#b4e2bd" stroke-width="3.6" stroke-linejoin="round" opacity="0.75"/>
<path d="M473.8 312.1L472.8 310.9L472.6 308.4L473.8 305.9L475.8 303.5L478.4 301.0L480.8 299.2L482.6 297.3L483.4 294.9L483.8 289.9L484.2 285.0L484.8 283.0L484.8 283.0L485.4 285.0L485.8 289.9L486.2 294.9L487.0 297.3L488.8 299.2L491.2 301.0L493.8 303.5L495.8 305.9L497.0 308.4L496.8 310.9L495.8 312.1" fill="none" stroke="#2eb34a" stroke-width="1.2" stroke-linejoin="round"/>
<path d="M474.8 312.1L472.8 310.9L472.3 308.4L475.8 304.7L480.8 299.8L484.8 294.9L484.8 294.9L488.8 299.8L493.8 304.7L497.3 308.4L496.8 310.9L494.8 312.1Z" fill="#f4b6be" opacity="0.6"/>
<path d="M477.8 312.1L477.0 310.9L477.0 308.4L478.3 305.9L479.8 303.5L481.6 301.0L483.0 298.5L484.8 295.6L484.8 295.6L486.6 298.5L488.0 301.0L489.8 303.5L491.3 305.9L492.6 308.4L492.6 310.9L491.8 312.1Z" fill="#fff"/>
<path d="M477.8 312.1L477.0 310.9L477.0 308.4L478.3 305.9L479.8 303.5L481.6 301.0L483.0 298.5L484.8 295.6L484.8 295.6L486.6 298.5L488.0 301.0L489.8 303.5L491.3 305.9L492.6 308.4L492.6 310.9L491.8 312.1" fill="none" stroke="#f4b6be" stroke-width="3.6" stroke-linejoin="round" opacity="0.75"/>
<path d="M477.8 312.1L477.0 310.9L477.0 308.4L478.3 305.9L479.8 303.5L481.6 301.0L483.0 298.5L484.8 295.6L484.8 295.6L486.6 298.5L488.0 301.0L489.8 303.5L491.3 305.9L492.6 308.4L492.6 310.9L491.8 312.1" fill="none" stroke="#e0243a" stroke-width="1.2" stroke-linejoin="round"/>
<rect x="467.0" y="235.3" width="6" height="4.6" fill="#f4b6be"/>
<path d="M467.00 237.60L473.00 237.60" stroke="#e0243a" stroke-width="1.1" stroke-linecap="butt" fill="none"/>
<text x="475.50" y="240.40" font-size="8.0">Low γ<tspan dx="1.1">′</tspan></text>
<rect x="467.0" y="243.0" width="6" height="4.6" fill="#b4e2bd"/>
<path d="M467.00 245.30L473.00 245.30" stroke="#2eb34a" stroke-width="1.1" stroke-linecap="butt" fill="none"/>
<text x="475.50" y="248.10" font-size="8.0">High γ<tspan dx="1.1">′</tspan></text>
<circle cx="66.9" cy="569.0" r="1.80" fill="#c8102e"/>
<text x="74.70" y="571.70" font-size="7.4">3% γ<tspan dx="1.1">′</tspan></text>
<rect x="98.0" y="567.2" width="3.6" height="3.6" fill="#1b5a9b"/>
<text x="106.70" y="571.70" font-size="7.4">10% γ<tspan dx="1.1">′</tspan></text>
<path d="M134.8 567.3L136.6 570.5L133.0 570.5Z" fill="#22b14c"/>
<text x="141.90" y="571.70" font-size="7.4">30% γ<tspan dx="1.1">′</tspan></text>
<path d="M62.60 590.55L62.60 651.75" stroke="#231f20" stroke-width="0.95" stroke-linecap="butt" fill="none"/>
<path d="M62.15 651.30L104.00 651.30" stroke="#231f20" stroke-width="0.95" stroke-linecap="butt" fill="none"/>
<path d="M60.30 591.10L62.60 591.10" stroke="#231f20" stroke-width="0.9" stroke-linecap="butt" fill="none"/>
<text x="59.30" y="593.89" font-size="7.8" text-anchor="end">2.0</text>
<path d="M60.30 606.15L62.60 606.15" stroke="#231f20" stroke-width="0.9" stroke-linecap="butt" fill="none"/>
<text x="59.30" y="608.94" font-size="7.8" text-anchor="end">1.5</text>
<path d="M60.30 621.20L62.60 621.20" stroke="#231f20" stroke-width="0.9" stroke-linecap="butt" fill="none"/>
<text x="59.30" y="623.99" font-size="7.8" text-anchor="end">1.0</text>
<path d="M60.30 636.25L62.60 636.25" stroke="#231f20" stroke-width="0.9" stroke-linecap="butt" fill="none"/>
<text x="59.30" y="639.04" font-size="7.8" text-anchor="end">0.5</text>
<path d="M60.30 651.30L62.60 651.30" stroke="#231f20" stroke-width="0.9" stroke-linecap="butt" fill="none"/>
<text x="59.30" y="654.09" font-size="7.8" text-anchor="end">0.0</text>
<path d="M71.50 651.30L71.50 653.60" stroke="#231f20" stroke-width="0.9" stroke-linecap="butt" fill="none"/>
<path d="M83.60 651.30L83.60 653.60" stroke="#231f20" stroke-width="0.9" stroke-linecap="butt" fill="none"/>
<path d="M96.10 651.30L96.10 653.60" stroke="#231f20" stroke-width="0.9" stroke-linecap="butt" fill="none"/>
<text x="41.60" y="621.50" font-size="7.2" text-anchor="middle" textLength="62.50" lengthAdjust="spacingAndGlyphs" transform="rotate(-90 41.60 621.50)">Fibrin volume (μm<tspan dy="-2.4" font-size="4.6">3</tspan><tspan dy="2.4" font-size="4.6"> </tspan> × 10<tspan dy="-2.4" font-size="4.6">6</tspan><tspan dy="2.4" font-size="4.6"> </tspan>)</text>
<path d="M72.70 596.40L96.10 596.40" stroke="#231f20" stroke-width="1.1" stroke-linecap="butt" fill="none"/>
<text x="84.50" y="597.20" font-size="8.0" text-anchor="middle" font-weight="bold" textLength="9.80" lengthAdjust="spacingAndGlyphs">****</text>
<path d="M72.70 601.60L82.40 601.60" stroke="#231f20" stroke-width="1.1" stroke-linecap="butt" fill="none"/>
<text x="78.40" y="602.60" font-size="8.0" text-anchor="middle" font-weight="bold" textLength="4.90" lengthAdjust="spacingAndGlyphs">**</text>
<path d="M85.40 601.60L96.10 601.60" stroke="#231f20" stroke-width="1.1" stroke-linecap="butt" fill="none"/>
<text x="90.80" y="602.60" font-size="8.0" text-anchor="middle" font-weight="bold" textLength="9.80" lengthAdjust="spacingAndGlyphs">****</text>
<circle cx="70.0" cy="645.0" r="1.75" fill="#c8102e"/>
<circle cx="72.0" cy="646.6" r="1.75" fill="#c8102e"/>
<circle cx="73.4" cy="645.4" r="1.75" fill="#c8102e"/>
<circle cx="71.0" cy="647.4" r="1.75" fill="#c8102e"/>
<circle cx="72.6" cy="644.0" r="1.75" fill="#c8102e"/>
<path d="M67.85 646.00L75.35 646.00" stroke="#111" stroke-width="0.9" stroke-linecap="butt" fill="none"/>
<path d="M71.60 644.60L71.60 647.40" stroke="#111" stroke-width="0.9" stroke-linecap="butt" fill="none"/>
<path d="M70.00 644.60L73.20 644.60" stroke="#111" stroke-width="0.9" stroke-linecap="butt" fill="none"/>
<path d="M70.00 647.40L73.20 647.40" stroke="#111" stroke-width="0.9" stroke-linecap="butt" fill="none"/>
<rect x="82.0" y="618.0" width="3.9" height="3.9" fill="#1b5a9b"/>
<rect x="82.0" y="622.0" width="3.9" height="3.9" fill="#1b5a9b"/>
<rect x="82.0" y="627.6" width="3.9" height="3.9" fill="#1b5a9b"/>
<rect x="80.0" y="634.0" width="3.9" height="3.9" fill="#1b5a9b"/>
<rect x="84.2" y="637.0" width="3.9" height="3.9" fill="#1b5a9b"/>
<rect x="82.0" y="642.8" width="3.9" height="3.9" fill="#1b5a9b"/>
<path d="M80.05 632.20L88.35 632.20" stroke="#111" stroke-width="0.9" stroke-linecap="butt" fill="none"/>
<path d="M84.20 623.50L84.20 640.50" stroke="#111" stroke-width="0.9" stroke-linecap="butt" fill="none"/>
<path d="M82.00 623.50L86.40 623.50" stroke="#111" stroke-width="0.9" stroke-linecap="butt" fill="none"/>
<path d="M82.00 640.50L86.40 640.50" stroke="#111" stroke-width="0.9" stroke-linecap="butt" fill="none"/>
<path d="M94.4 603.6L96.3 607.1L92.5 607.1Z" fill="#22b14c"/>
<path d="M98.0 604.1L99.9 607.6L96.1 607.6Z" fill="#22b14c"/>
<path d="M95.0 608.1L96.9 611.6L93.1 611.6Z" fill="#22b14c"/>
<path d="M97.4 608.9L99.3 612.4L95.5 612.4Z" fill="#22b14c"/>
<path d="M95.0 613.3L96.9 616.8L93.1 616.8Z" fill="#22b14c"/>
<path d="M98.2 610.5L100.1 614.0L96.3 614.0Z" fill="#22b14c"/>
<path d="M134.80 589.75L134.80 652.95" stroke="#231f20" stroke-width="0.95" stroke-linecap="butt" fill="none"/>
<path d="M134.35 652.50L176.00 652.50" stroke="#231f20" stroke-width="0.95" stroke-linecap="butt" fill="none"/>
<path d="M132.50 590.20L134.80 590.20" stroke="#231f20" stroke-width="0.9" stroke-linecap="butt" fill="none"/>
<text x="131.00" y="592.99" font-size="7.8" text-anchor="end">50</text>
<path d="M132.50 602.66L134.80 602.66" stroke="#231f20" stroke-width="0.9" stroke-linecap="butt" fill="none"/>
<text x="131.00" y="605.45" font-size="7.8" text-anchor="end">40</text>
<path d="M132.50 615.12L134.80 615.12" stroke="#231f20" stroke-width="0.9" stroke-linecap="butt" fill="none"/>
<text x="131.00" y="617.91" font-size="7.8" text-anchor="end">30</text>
<path d="M132.50 627.58L134.80 627.58" stroke="#231f20" stroke-width="0.9" stroke-linecap="butt" fill="none"/>
<text x="131.00" y="630.37" font-size="7.8" text-anchor="end">20</text>
<path d="M132.50 640.04L134.80 640.04" stroke="#231f20" stroke-width="0.9" stroke-linecap="butt" fill="none"/>
<text x="131.00" y="642.83" font-size="7.8" text-anchor="end">10</text>
<path d="M132.50 652.50L134.80 652.50" stroke="#231f20" stroke-width="0.9" stroke-linecap="butt" fill="none"/>
<text x="131.00" y="655.29" font-size="7.8" text-anchor="end">0</text>
<path d="M143.00 652.50L143.00 654.80" stroke="#231f20" stroke-width="0.9" stroke-linecap="butt" fill="none"/>
<path d="M155.70 652.50L155.70 654.80" stroke="#231f20" stroke-width="0.9" stroke-linecap="butt" fill="none"/>
<path d="M168.20 652.50L168.20 654.80" stroke="#231f20" stroke-width="0.9" stroke-linecap="butt" fill="none"/>
<text x="117.00" y="623.00" font-size="7.2" text-anchor="middle" textLength="56.50" lengthAdjust="spacingAndGlyphs" transform="rotate(-90 117.00 623.00)">Max height of clot (μm)</text>
<path d="M144.00 596.40L168.20 596.40" stroke="#231f20" stroke-width="1.1" stroke-linecap="butt" fill="none"/>
<text x="156.00" y="597.20" font-size="8.0" text-anchor="middle" font-weight="bold" textLength="7.35" lengthAdjust="spacingAndGlyphs">***</text>
<path d="M156.40 602.40L168.20 602.40" stroke="#231f20" stroke-width="1.1" stroke-linecap="butt" fill="none"/>
<text x="163.00" y="603.20" font-size="8.0" text-anchor="middle" font-weight="bold" textLength="4.90" lengthAdjust="spacingAndGlyphs">**</text>
<circle cx="141.4" cy="638.0" r="1.75" fill="#c8102e"/>
<circle cx="143.4" cy="636.6" r="1.75" fill="#c8102e"/>
<circle cx="145.4" cy="638.6" r="1.75" fill="#c8102e"/>
<circle cx="144.4" cy="640.4" r="1.75" fill="#c8102e"/>
<circle cx="142.4" cy="639.6" r="1.75" fill="#c8102e"/>
<path d="M139.25 638.60L147.95 638.60" stroke="#111" stroke-width="0.9" stroke-linecap="butt" fill="none"/>
<path d="M143.60 637.20L143.60 640.00" stroke="#111" stroke-width="0.9" stroke-linecap="butt" fill="none"/>
<path d="M142.00 637.20L145.20 637.20" stroke="#111" stroke-width="0.9" stroke-linecap="butt" fill="none"/>
<path d="M142.00 640.00L145.20 640.00" stroke="#111" stroke-width="0.9" stroke-linecap="butt" fill="none"/>
<rect x="155.5" y="619.3" width="3.9" height="3.9" fill="#1b5a9b"/>
<rect x="153.2" y="622.8" width="3.9" height="3.9" fill="#1b5a9b"/>
<rect x="153.6" y="628.0" width="3.9" height="3.9" fill="#1b5a9b"/>
<rect x="155.9" y="637.6" width="3.9" height="3.9" fill="#1b5a9b"/>
<rect x="151.6" y="641.0" width="3.9" height="3.9" fill="#1b5a9b"/>
<rect x="153.7" y="641.0" width="3.9" height="3.9" fill="#1b5a9b"/>
<path d="M151.35 633.40L160.65 633.40" stroke="#111" stroke-width="0.9" stroke-linecap="butt" fill="none"/>
<path d="M156.00 624.40L156.00 642.60" stroke="#111" stroke-width="0.9" stroke-linecap="butt" fill="none"/>
<path d="M153.80 624.40L158.20 624.40" stroke="#111" stroke-width="0.9" stroke-linecap="butt" fill="none"/>
<path d="M153.80 642.60L158.20 642.60" stroke="#111" stroke-width="0.9" stroke-linecap="butt" fill="none"/>
<path d="M168.2 614.0L170.1 617.5L166.3 617.5Z" fill="#22b14c"/>
<path d="M166.4 616.3L168.3 619.8L164.5 619.8Z" fill="#22b14c"/>
<path d="M170.4 617.9L172.3 621.4L168.5 621.4Z" fill="#22b14c"/>
<path d="M167.6 623.9L169.5 627.4L165.7 627.4Z" fill="#22b14c"/>
<path d="M163.80 620.40L173.40 620.40" stroke="#111" stroke-width="0.9" stroke-linecap="butt" fill="none"/>
<path d="M168.60 616.30L168.60 624.80" stroke="#111" stroke-width="0.9" stroke-linecap="butt" fill="none"/>
<path d="M166.40 616.30L170.80 616.30" stroke="#111" stroke-width="0.9" stroke-linecap="butt" fill="none"/>
<path d="M166.40 624.80L170.80 624.80" stroke="#111" stroke-width="0.9" stroke-linecap="butt" fill="none"/>
<path d="M212.30 572.05L212.30 634.95" stroke="#231f20" stroke-width="0.95" stroke-linecap="butt" fill="none"/>
<path d="M211.85 634.50L253.60 634.50" stroke="#231f20" stroke-width="0.95" stroke-linecap="butt" fill="none"/>
<path d="M210.00 572.50L212.30 572.50" stroke="#231f20" stroke-width="0.9" stroke-linecap="butt" fill="none"/>
<text x="208.60" y="575.36" font-size="8.0" text-anchor="end">50</text>
<path d="M210.00 584.90L212.30 584.90" stroke="#231f20" stroke-width="0.9" stroke-linecap="butt" fill="none"/>
<text x="208.60" y="587.76" font-size="8.0" text-anchor="end">40</text>
<path d="M210.00 597.30L212.30 597.30" stroke="#231f20" stroke-width="0.9" stroke-linecap="butt" fill="none"/>
<text x="208.60" y="600.16" font-size="8.0" text-anchor="end">30</text>
<path d="M210.00 609.70L212.30 609.70" stroke="#231f20" stroke-width="0.9" stroke-linecap="butt" fill="none"/>
<text x="208.60" y="612.56" font-size="8.0" text-anchor="end">20</text>
<path d="M210.00 622.10L212.30 622.10" stroke="#231f20" stroke-width="0.9" stroke-linecap="butt" fill="none"/>
<text x="208.60" y="624.96" font-size="8.0" text-anchor="end">10</text>
<path d="M210.00 634.50L212.30 634.50" stroke="#231f20" stroke-width="0.9" stroke-linecap="butt" fill="none"/>
<text x="208.60" y="637.36" font-size="8.0" text-anchor="end">0</text>
<path d="M222.30 634.50L222.30 636.80" stroke="#231f20" stroke-width="0.9" stroke-linecap="butt" fill="none"/>
<path d="M232.50 634.50L232.50 636.80" stroke="#231f20" stroke-width="0.9" stroke-linecap="butt" fill="none"/>
<path d="M243.00 634.50L243.00 636.80" stroke="#231f20" stroke-width="0.9" stroke-linecap="butt" fill="none"/>
<path d="M253.30 634.50L253.30 636.80" stroke="#231f20" stroke-width="0.9" stroke-linecap="butt" fill="none"/>
<text x="185.60" y="601.00" font-size="7.2" text-anchor="middle" textLength="44.00" lengthAdjust="spacingAndGlyphs" transform="rotate(-90 185.60 601.00)">Distance from slide</text>
<text x="194.60" y="601.00" font-size="7.2" text-anchor="middle" textLength="28.50" lengthAdjust="spacingAndGlyphs" transform="rotate(-90 194.60 601.00)">surface (μm)</text>
<text x="222.30" y="644.90" font-size="8.0" text-anchor="middle">10</text>
<text x="232.60" y="644.90" font-size="8.0" text-anchor="middle">0</text>
<text x="242.90" y="644.90" font-size="8.0" text-anchor="middle">10</text>
<text x="232.60" y="651.90" font-size="7.2" text-anchor="middle" textLength="37.50" lengthAdjust="spacingAndGlyphs">Fibrin area/slice</text>
<text x="232.60" y="661.60" font-size="7.2" text-anchor="middle" textLength="30.00" lengthAdjust="spacingAndGlyphs">(μm<tspan dy="-2.4" font-size="4.6">2</tspan><tspan dy="2.4" font-size="4.6"> </tspan> × 10<tspan dy="-2.4" font-size="4.6">3</tspan><tspan dy="2.4" font-size="4.6"> </tspan>)</text>
<path d="M211.6 634.5L211.1 632.0L212.1 627.1L215.1 622.1L220.6 615.9L224.6 609.7L228.1 603.5L232.6 596.7L232.6 596.7L237.1 603.5L240.6 609.7L244.6 615.9L250.1 622.1L253.1 627.1L254.1 632.0L253.6 634.5Z" fill="#b4e2bd" opacity="0.6"/>
<path d="M218.6 634.5L217.4 633.3L217.0 630.8L217.6 627.1L219.6 622.1L221.2 618.4L223.2 614.7L225.4 610.9L227.6 607.2L229.6 603.5L230.8 601.0L232.6 598.3L232.6 598.3L234.4 601.0L235.6 603.5L237.6 607.2L239.8 610.9L242.0 614.7L244.0 618.4L245.6 622.1L247.6 627.1L248.2 630.8L247.8 633.3L246.6 634.5Z" fill="#fff"/>
<path d="M218.6 634.5L217.4 633.3L217.0 630.8L217.6 627.1L219.6 622.1L221.2 618.4L223.2 614.7L225.4 610.9L227.6 607.2L229.6 603.5L230.8 601.0L232.6 598.3L232.6 598.3L234.4 601.0L235.6 603.5L237.6 607.2L239.8 610.9L242.0 614.7L244.0 618.4L245.6 622.1L247.6 627.1L248.2 630.8L247.8 633.3L246.6 634.5" fill="none" stroke="#b4e2bd" stroke-width="3.6" stroke-linejoin="round" opacity="0.75"/>
<path d="M218.6 634.5L217.4 633.3L217.0 630.8L217.6 627.1L219.6 622.1L221.2 618.4L223.2 614.7L225.4 610.9L227.6 607.2L229.6 603.5L230.8 601.0L232.6 598.3L232.6 598.3L234.4 601.0L235.6 603.5L237.6 607.2L239.8 610.9L242.0 614.7L244.0 618.4L245.6 622.1L247.6 627.1L248.2 630.8L247.8 633.3L246.6 634.5" fill="none" stroke="#2eb34a" stroke-width="1.2" stroke-linejoin="round"/>
<path d="M218.6 634.5L217.1 632.0L218.1 627.1L219.6 622.1L223.1 617.1L226.6 612.2L229.6 607.2L232.6 602.3L232.6 602.3L235.6 607.2L238.6 612.2L242.1 617.1L245.6 622.1L247.1 627.1L248.1 632.0L246.6 634.5Z" fill="#b5cde9" opacity="0.6"/>
<path d="M220.6 634.5L219.6 633.3L219.4 630.8L220.2 628.3L221.6 625.8L222.2 624.6L223.4 623.3L222.8 622.1L224.2 620.9L225.2 618.4L226.6 615.9L228.2 614.7L227.8 613.4L229.2 612.2L230.0 609.7L230.6 607.2L231.4 605.4L232.6 603.5L232.6 603.5L233.8 605.4L234.6 607.2L235.2 609.7L236.0 612.2L237.4 613.4L237.0 614.7L238.6 615.9L240.0 618.4L241.0 620.9L242.4 622.1L241.8 623.3L243.0 624.6L243.6 625.8L245.0 628.3L245.8 630.8L245.6 633.3L244.6 634.5Z" fill="#fff"/>
<path d="M220.6 634.5L219.6 633.3L219.4 630.8L220.2 628.3L221.6 625.8L222.2 624.6L223.4 623.3L222.8 622.1L224.2 620.9L225.2 618.4L226.6 615.9L228.2 614.7L227.8 613.4L229.2 612.2L230.0 609.7L230.6 607.2L231.4 605.4L232.6 603.5L232.6 603.5L233.8 605.4L234.6 607.2L235.2 609.7L236.0 612.2L237.4 613.4L237.0 614.7L238.6 615.9L240.0 618.4L241.0 620.9L242.4 622.1L241.8 623.3L243.0 624.6L243.6 625.8L245.0 628.3L245.8 630.8L245.6 633.3L244.6 634.5" fill="none" stroke="#b5cde9" stroke-width="3.6" stroke-linejoin="round" opacity="0.75"/>
<path d="M220.6 634.5L219.6 633.3L219.4 630.8L220.2 628.3L221.6 625.8L222.2 624.6L223.4 623.3L222.8 622.1L224.2 620.9L225.2 618.4L226.6 615.9L228.2 614.7L227.8 613.4L229.2 612.2L230.0 609.7L230.6 607.2L231.4 605.4L232.6 603.5L232.6 603.5L233.8 605.4L234.6 607.2L235.2 609.7L236.0 612.2L237.4 613.4L237.0 614.7L238.6 615.9L240.0 618.4L241.0 620.9L242.4 622.1L241.8 623.3L243.0 624.6L243.6 625.8L245.0 628.3L245.8 630.8L245.6 633.3L244.6 634.5" fill="none" stroke="#2065b0" stroke-width="1.2" stroke-linejoin="round"/>
<path d="M223.6 634.5L222.1 632.0L223.6 628.3L227.6 624.6L232.6 619.0L232.6 619.0L237.6 624.6L241.6 628.3L243.1 632.0L241.6 634.5Z" fill="#f4b6be" opacity="0.6"/>
<path d="M226.2 634.5L225.2 633.3L225.0 630.8L226.0 628.3L228.2 625.8L230.2 623.3L232.6 620.5L232.6 620.5L235.0 623.3L237.0 625.8L239.2 628.3L240.2 630.8L240.0 633.3L239.0 634.5Z" fill="#fff"/>
<path d="M226.2 634.5L225.2 633.3L225.0 630.8L226.0 628.3L228.2 625.8L230.2 623.3L232.6 620.5L232.6 620.5L235.0 623.3L237.0 625.8L239.2 628.3L240.2 630.8L240.0 633.3L239.0 634.5" fill="none" stroke="#f4b6be" stroke-width="3.6" stroke-linejoin="round" opacity="0.75"/>
<path d="M226.2 634.5L225.2 633.3L225.0 630.8L226.0 628.3L228.2 625.8L230.2 623.3L232.6 620.5L232.6 620.5L235.0 623.3L237.0 625.8L239.2 628.3L240.2 630.8L240.0 633.3L239.0 634.5" fill="none" stroke="#e0243a" stroke-width="1.2" stroke-linejoin="round"/>
<rect x="218.8" y="570.0" width="6" height="4.6" fill="#f4b6be"/>
<path d="M218.80 572.30L224.80 572.30" stroke="#e0243a" stroke-width="1.1" stroke-linecap="butt" fill="none"/>
<text x="227.10" y="575.10" font-size="8.0">3% γ<tspan dx="1.1">′</tspan></text>
<rect x="218.8" y="578.0" width="6" height="4.6" fill="#b5cde9"/>
<path d="M218.80 580.30L224.80 580.30" stroke="#2065b0" stroke-width="1.1" stroke-linecap="butt" fill="none"/>
<text x="227.10" y="583.10" font-size="8.0">10% γ<tspan dx="1.1">′</tspan></text>
<rect x="218.8" y="586.8" width="6" height="4.6" fill="#b4e2bd"/>
<path d="M218.80 589.10L224.80 589.10" stroke="#2eb34a" stroke-width="1.1" stroke-linecap="butt" fill="none"/>
<text x="227.10" y="591.90" font-size="8.0">30% γ<tspan dx="1.1">′</tspan></text>
<circle cx="329.2" cy="569.5" r="1.90" fill="#c8102e"/>
<text x="336.40" y="572.20" font-size="7.4">Low γ<tspan dx="1.1">′</tspan></text>
<path d="M365.9 567.8L367.7 571.0L364.1 571.0Z" fill="#22b14c"/>
<text x="373.90" y="572.20" font-size="7.4">High γ<tspan dx="1.1">′</tspan></text>
<path d="M313.10 590.55L313.10 652.05" stroke="#231f20" stroke-width="0.95" stroke-linecap="butt" fill="none"/>
<path d="M312.65 651.60L353.70 651.60" stroke="#231f20" stroke-width="0.95" stroke-linecap="butt" fill="none"/>
<path d="M310.80 591.20L313.10 591.20" stroke="#231f20" stroke-width="0.9" stroke-linecap="butt" fill="none"/>
<text x="310.30" y="593.99" font-size="7.8" text-anchor="end">2.0</text>
<path d="M310.80 606.30L313.10 606.30" stroke="#231f20" stroke-width="0.9" stroke-linecap="butt" fill="none"/>
<text x="310.30" y="609.09" font-size="7.8" text-anchor="end">1.5</text>
<path d="M310.80 621.40L313.10 621.40" stroke="#231f20" stroke-width="0.9" stroke-linecap="butt" fill="none"/>
<text x="310.30" y="624.19" font-size="7.8" text-anchor="end">1.0</text>
<path d="M310.80 636.50L313.10 636.50" stroke="#231f20" stroke-width="0.9" stroke-linecap="butt" fill="none"/>
<text x="310.30" y="639.29" font-size="7.8" text-anchor="end">0.5</text>
<path d="M310.80 651.60L313.10 651.60" stroke="#231f20" stroke-width="0.9" stroke-linecap="butt" fill="none"/>
<text x="310.30" y="654.39" font-size="7.8" text-anchor="end">0.0</text>
<path d="M325.20 651.60L325.20 653.90" stroke="#231f20" stroke-width="0.9" stroke-linecap="butt" fill="none"/>
<path d="M334.00 651.60L334.00 653.90" stroke="#231f20" stroke-width="0.9" stroke-linecap="butt" fill="none"/>
<path d="M342.80 651.60L342.80 653.90" stroke="#231f20" stroke-width="0.9" stroke-linecap="butt" fill="none"/>
<text x="292.60" y="621.50" font-size="7.2" text-anchor="middle" textLength="62.50" lengthAdjust="spacingAndGlyphs" transform="rotate(-90 292.60 621.50)">Fibrin volume (μm<tspan dy="-2.4" font-size="4.6">3</tspan><tspan dy="2.4" font-size="4.6"> </tspan> × 10<tspan dy="-2.4" font-size="4.6">6</tspan><tspan dy="2.4" font-size="4.6"> </tspan>)</text>
<path d="M324.70 589.80L342.80 589.80" stroke="#231f20" stroke-width="1.1" stroke-linecap="butt" fill="none"/>
<text x="333.80" y="590.00" font-size="8.0" text-anchor="middle" font-weight="bold" textLength="7.35" lengthAdjust="spacingAndGlyphs">***</text>
<circle cx="321.2" cy="632.2" r="2.00" fill="#c8102e"/>
<circle cx="329.0" cy="634.0" r="2.00" fill="#c8102e"/>
<circle cx="325.2" cy="636.0" r="2.00" fill="#c8102e"/>
<circle cx="322.6" cy="648.1" r="2.00" fill="#c8102e"/>
<circle cx="327.0" cy="647.0" r="2.00" fill="#c8102e"/>
<path d="M319.20 639.50L331.20 639.50" stroke="#111" stroke-width="0.9" stroke-linecap="butt" fill="none"/>
<path d="M325.20 631.70L325.20 647.30" stroke="#111" stroke-width="0.9" stroke-linecap="butt" fill="none"/>
<path d="M322.60 631.70L327.80 631.70" stroke="#111" stroke-width="0.9" stroke-linecap="butt" fill="none"/>
<path d="M322.60 647.30L327.80 647.30" stroke="#111" stroke-width="0.9" stroke-linecap="butt" fill="none"/>
<path d="M342.8 592.6L344.7 596.1L340.9 596.1Z" fill="#22b14c"/>
<path d="M342.8 604.9L344.7 608.4L340.9 608.4Z" fill="#22b14c"/>
<path d="M339.0 608.9L340.9 612.4L337.1 612.4Z" fill="#22b14c"/>
<path d="M346.3 611.6L348.2 615.1L344.4 615.1Z" fill="#22b14c"/>
<path d="M342.8 617.9L344.7 621.4L340.9 621.4Z" fill="#22b14c"/>
<path d="M336.80 608.50L348.80 608.50" stroke="#111" stroke-width="0.9" stroke-linecap="butt" fill="none"/>
<path d="M342.80 598.80L342.80 617.80" stroke="#111" stroke-width="0.9" stroke-linecap="butt" fill="none"/>
<path d="M340.00 598.80L345.60 598.80" stroke="#111" stroke-width="0.9" stroke-linecap="butt" fill="none"/>
<path d="M340.00 617.80L345.60 617.80" stroke="#111" stroke-width="0.9" stroke-linecap="butt" fill="none"/>
<path d="M386.00 590.25L386.00 652.95" stroke="#231f20" stroke-width="0.95" stroke-linecap="butt" fill="none"/>
<path d="M385.55 652.50L426.70 652.50" stroke="#231f20" stroke-width="0.95" stroke-linecap="butt" fill="none"/>
<path d="M383.70 590.70L386.00 590.70" stroke="#231f20" stroke-width="0.9" stroke-linecap="butt" fill="none"/>
<text x="381.80" y="593.49" font-size="7.8" text-anchor="end">50</text>
<path d="M383.70 603.06L386.00 603.06" stroke="#231f20" stroke-width="0.9" stroke-linecap="butt" fill="none"/>
<text x="381.80" y="605.85" font-size="7.8" text-anchor="end">40</text>
<path d="M383.70 615.42L386.00 615.42" stroke="#231f20" stroke-width="0.9" stroke-linecap="butt" fill="none"/>
<text x="381.80" y="618.21" font-size="7.8" text-anchor="end">30</text>
<path d="M383.70 627.78L386.00 627.78" stroke="#231f20" stroke-width="0.9" stroke-linecap="butt" fill="none"/>
<text x="381.80" y="630.57" font-size="7.8" text-anchor="end">20</text>
<path d="M383.70 640.14L386.00 640.14" stroke="#231f20" stroke-width="0.9" stroke-linecap="butt" fill="none"/>
<text x="381.80" y="642.93" font-size="7.8" text-anchor="end">10</text>
<path d="M383.70 652.50L386.00 652.50" stroke="#231f20" stroke-width="0.9" stroke-linecap="butt" fill="none"/>
<text x="381.80" y="655.29" font-size="7.8" text-anchor="end">0</text>
<path d="M397.60 652.50L397.60 654.80" stroke="#231f20" stroke-width="0.9" stroke-linecap="butt" fill="none"/>
<path d="M415.40 652.50L415.40 654.80" stroke="#231f20" stroke-width="0.9" stroke-linecap="butt" fill="none"/>
<text x="367.40" y="623.00" font-size="7.2" text-anchor="middle" textLength="56.50" lengthAdjust="spacingAndGlyphs" transform="rotate(-90 367.40 623.00)">Max height of clot (μm)</text>
<path d="M397.60 587.20L416.10 587.20" stroke="#231f20" stroke-width="1.1" stroke-linecap="butt" fill="none"/>
<text x="406.60" y="587.60" font-size="8.0" text-anchor="middle" font-weight="bold" textLength="7.35" lengthAdjust="spacingAndGlyphs">***</text>
<circle cx="394.2" cy="636.4" r="1.75" fill="#c8102e"/>
<circle cx="396.6" cy="633.4" r="1.75" fill="#c8102e"/>
<circle cx="398.8" cy="635.2" r="1.75" fill="#c8102e"/>
<circle cx="400.4" cy="633.4" r="1.75" fill="#c8102e"/>
<circle cx="402.6" cy="636.4" r="1.75" fill="#c8102e"/>
<path d="M392.50 635.00L404.50 635.00" stroke="#111" stroke-width="0.9" stroke-linecap="butt" fill="none"/>
<path d="M398.50 633.60L398.50 636.40" stroke="#111" stroke-width="0.9" stroke-linecap="butt" fill="none"/>
<path d="M396.30 633.60L400.70 633.60" stroke="#111" stroke-width="0.9" stroke-linecap="butt" fill="none"/>
<path d="M396.30 636.40L400.70 636.40" stroke="#111" stroke-width="0.9" stroke-linecap="butt" fill="none"/>
<path d="M415.8 589.1L417.7 592.6L413.9 592.6Z" fill="#22b14c"/>
<path d="M412.0 599.9L413.9 603.4L410.1 603.4Z" fill="#22b14c"/>
<path d="M419.7 599.9L421.6 603.4L417.8 603.4Z" fill="#22b14c"/>
<path d="M415.8 608.9L417.7 612.4L413.9 612.4Z" fill="#22b14c"/>
<path d="M415.8 621.5L417.7 625.0L413.9 625.0Z" fill="#22b14c"/>
<path d="M410.00 605.40L421.80 605.40" stroke="#111" stroke-width="0.9" stroke-linecap="butt" fill="none"/>
<path d="M415.90 593.30L415.90 617.20" stroke="#111" stroke-width="0.9" stroke-linecap="butt" fill="none"/>
<path d="M413.10 593.30L418.70 593.30" stroke="#111" stroke-width="0.9" stroke-linecap="butt" fill="none"/>
<path d="M413.10 617.20L418.70 617.20" stroke="#111" stroke-width="0.9" stroke-linecap="butt" fill="none"/>
<path d="M463.00 573.35L463.00 635.45" stroke="#231f20" stroke-width="0.95" stroke-linecap="butt" fill="none"/>
<path d="M462.55 635.00L505.00 635.00" stroke="#231f20" stroke-width="0.95" stroke-linecap="butt" fill="none"/>
<path d="M460.70 573.80L463.00 573.80" stroke="#231f20" stroke-width="0.9" stroke-linecap="butt" fill="none"/>
<text x="459.40" y="576.66" font-size="8.0" text-anchor="end">50</text>
<path d="M460.70 586.04L463.00 586.04" stroke="#231f20" stroke-width="0.9" stroke-linecap="butt" fill="none"/>
<text x="459.40" y="588.90" font-size="8.0" text-anchor="end">40</text>
<path d="M460.70 598.28L463.00 598.28" stroke="#231f20" stroke-width="0.9" stroke-linecap="butt" fill="none"/>
<text x="459.40" y="601.14" font-size="8.0" text-anchor="end">30</text>
<path d="M460.70 610.52L463.00 610.52" stroke="#231f20" stroke-width="0.9" stroke-linecap="butt" fill="none"/>
<text x="459.40" y="613.38" font-size="8.0" text-anchor="end">20</text>
<path d="M460.70 622.76L463.00 622.76" stroke="#231f20" stroke-width="0.9" stroke-linecap="butt" fill="none"/>
<text x="459.40" y="625.62" font-size="8.0" text-anchor="end">10</text>
<path d="M460.70 635.00L463.00 635.00" stroke="#231f20" stroke-width="0.9" stroke-linecap="butt" fill="none"/>
<text x="459.40" y="637.86" font-size="8.0" text-anchor="end">0</text>
<path d="M474.50 635.00L474.50 637.30" stroke="#231f20" stroke-width="0.9" stroke-linecap="butt" fill="none"/>
<path d="M484.60 635.00L484.60 637.30" stroke="#231f20" stroke-width="0.9" stroke-linecap="butt" fill="none"/>
<path d="M495.00 635.00L495.00 637.30" stroke="#231f20" stroke-width="0.9" stroke-linecap="butt" fill="none"/>
<path d="M504.70 635.00L504.70 637.30" stroke="#231f20" stroke-width="0.9" stroke-linecap="butt" fill="none"/>
<text x="434.00" y="601.00" font-size="7.2" text-anchor="middle" textLength="44.00" lengthAdjust="spacingAndGlyphs" transform="rotate(-90 434.00 601.00)">Distance from slide</text>
<text x="443.60" y="601.00" font-size="7.2" text-anchor="middle" textLength="28.50" lengthAdjust="spacingAndGlyphs" transform="rotate(-90 443.60 601.00)">surface (μm)</text>
<text x="474.30" y="645.60" font-size="8.0" text-anchor="middle">10</text>
<text x="484.60" y="645.60" font-size="8.0" text-anchor="middle">0</text>
<text x="494.90" y="645.60" font-size="8.0" text-anchor="middle">10</text>
<text x="484.60" y="652.50" font-size="7.2" text-anchor="middle" textLength="37.50" lengthAdjust="spacingAndGlyphs">Fibrin area/slice</text>
<text x="484.60" y="662.20" font-size="7.2" text-anchor="middle" textLength="30.00" lengthAdjust="spacingAndGlyphs">(μm<tspan dy="-2.4" font-size="4.6">2</tspan><tspan dy="2.4" font-size="4.6"> </tspan> × 10<tspan dy="-2.4" font-size="4.6">3</tspan><tspan dy="2.4" font-size="4.6"> </tspan>)</text>
<path d="M469.6 635.0L467.1 632.6L467.1 627.7L468.1 622.8L472.6 610.5L476.6 598.3L480.6 586.0L484.6 581.1L484.6 581.1L488.6 586.0L492.6 598.3L496.6 610.5L501.1 622.8L502.1 627.7L502.1 632.6L499.6 635.0Z" fill="#b4e2bd" opacity="0.6"/>
<path d="M473.0 635.0L471.6 633.8L470.8 631.3L470.8 627.7L471.4 622.8L473.0 617.9L474.8 613.0L476.4 608.1L477.8 603.2L479.1 598.3L480.4 593.4L481.7 588.5L482.7 584.8L483.6 582.4L484.0 578.7L484.6 573.8L484.6 573.8L485.2 578.7L485.6 582.4L486.5 584.8L487.5 588.5L488.8 593.4L490.1 598.3L491.4 603.2L492.8 608.1L494.4 613.0L496.2 617.9L497.8 622.8L498.4 627.7L498.4 631.3L497.6 633.8L496.2 635.0Z" fill="#fff"/>
<path d="M473.0 635.0L471.6 633.8L470.8 631.3L470.8 627.7L471.4 622.8L473.0 617.9L474.8 613.0L476.4 608.1L477.8 603.2L479.1 598.3L480.4 593.4L481.7 588.5L482.7 584.8L483.6 582.4L484.0 578.7L484.6 573.8L484.6 573.8L485.2 578.7L485.6 582.4L486.5 584.8L487.5 588.5L488.8 593.4L490.1 598.3L491.4 603.2L492.8 608.1L494.4 613.0L496.2 617.9L497.8 622.8L498.4 627.7L498.4 631.3L497.6 633.8L496.2 635.0" fill="none" stroke="#b4e2bd" stroke-width="5.2" stroke-linejoin="round" opacity="0.75"/>
<path d="M473.0 635.0L471.6 633.8L470.8 631.3L470.8 627.7L471.4 622.8L473.0 617.9L474.8 613.0L476.4 608.1L477.8 603.2L479.1 598.3L480.4 593.4L481.7 588.5L482.7 584.8L483.6 582.4L484.0 578.7L484.6 573.8L484.6 573.8L485.2 578.7L485.6 582.4L486.5 584.8L487.5 588.5L488.8 593.4L490.1 598.3L491.4 603.2L492.8 608.1L494.4 613.0L496.2 617.9L497.8 622.8L498.4 627.7L498.4 631.3L497.6 633.8L496.2 635.0" fill="none" stroke="#2eb34a" stroke-width="1.2" stroke-linejoin="round"/>
<path d="M472.6 635.0L470.6 632.6L473.1 628.9L478.6 624.0L484.6 617.3L484.6 617.3L490.6 624.0L496.1 628.9L498.6 632.6L496.6 635.0Z" fill="#f4b6be" opacity="0.6"/>
<path d="M476.0 635.0L474.6 633.8L475.0 631.3L477.0 628.9L479.0 626.4L480.8 624.0L482.4 621.5L484.6 618.6L484.6 618.6L486.8 621.5L488.4 624.0L490.2 626.4L492.2 628.9L494.2 631.3L494.6 633.8L493.2 635.0Z" fill="#fff"/>
<path d="M476.0 635.0L474.6 633.8L475.0 631.3L477.0 628.9L479.0 626.4L480.8 624.0L482.4 621.5L484.6 618.6L484.6 618.6L486.8 621.5L488.4 624.0L490.2 626.4L492.2 628.9L494.2 631.3L494.6 633.8L493.2 635.0" fill="none" stroke="#f4b6be" stroke-width="3.6" stroke-linejoin="round" opacity="0.75"/>
<path d="M476.0 635.0L474.6 633.8L475.0 631.3L477.0 628.9L479.0 626.4L480.8 624.0L482.4 621.5L484.6 618.6L484.6 618.6L486.8 621.5L488.4 624.0L490.2 626.4L492.2 628.9L494.2 631.3L494.6 633.8L493.2 635.0" fill="none" stroke="#e0243a" stroke-width="1.2" stroke-linejoin="round"/>
<rect x="466.4" y="555.4" width="6" height="4.6" fill="#f4b6be"/>
<path d="M466.40 557.70L472.40 557.70" stroke="#e0243a" stroke-width="1.1" stroke-linecap="butt" fill="none"/>
<text x="474.10" y="560.50" font-size="8.0">Low γ<tspan dx="1.1">′</tspan></text>
<rect x="466.4" y="565.0" width="6" height="4.6" fill="#b4e2bd"/>
<path d="M466.40 567.30L472.40 567.30" stroke="#2eb34a" stroke-width="1.1" stroke-linecap="butt" fill="none"/>
<text x="474.10" y="570.10" font-size="8.0">High γ<tspan dx="1.1">′</tspan></text>
</svg>
</body></html>
